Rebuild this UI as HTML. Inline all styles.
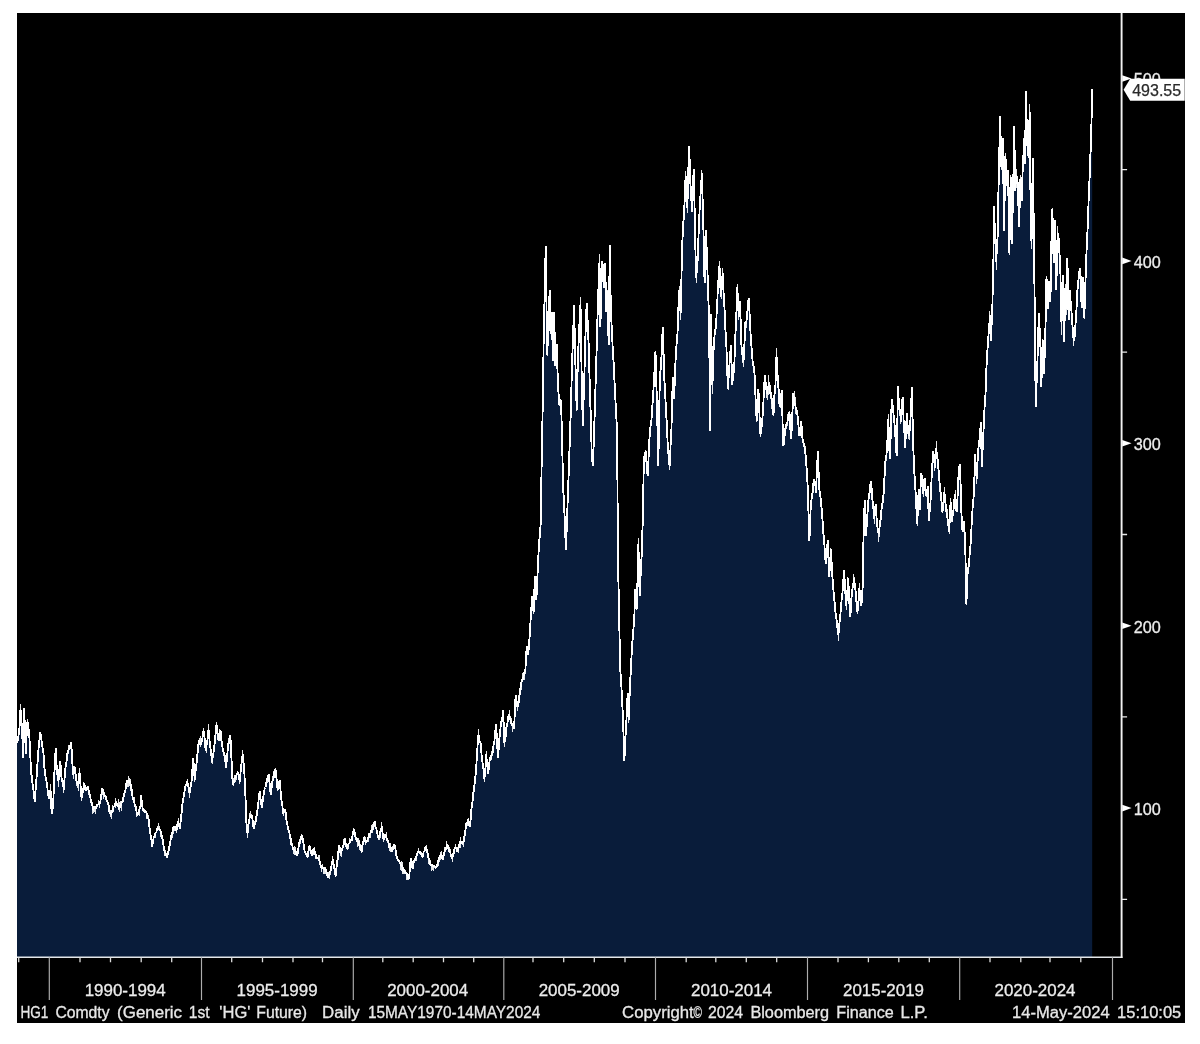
<!DOCTYPE html>
<html><head><meta charset="utf-8"><title>HG1 Comdty</title>
<style>
html,body{margin:0;padding:0;background:#fff;}
body{width:1200px;height:1044px;overflow:hidden;position:relative;font-family:"Liberation Sans",sans-serif;}
#panel{position:absolute;left:17px;top:13px;width:1167.7px;height:1009.6px;background:#000;filter:blur(0.4px);}
svg{position:absolute;left:0;top:0;filter:blur(0.4px);}
text{font-family:"Liberation Sans",sans-serif;}
.yl{font-size:16.2px;fill:#ececec;stroke:#ececec;stroke-width:0.3px;}
.vl{font-size:16px;fill:#2a2a2a;stroke:#2a2a2a;stroke-width:0.25px;}
.xl{font-size:16.95px;fill:#ececec;stroke:#ececec;stroke-width:0.3px;}
.ft{font-size:16px;fill:#e8e8e8;stroke:#e8e8e8;stroke-width:0.3px;}
</style></head><body>
<div id="panel"></div>
<svg width="1200" height="1044" viewBox="0 0 1200 1044">
<defs><filter id="bl" x="-2%" y="-2%" width="104%" height="104%"><feGaussianBlur stdDeviation="0.4"/></filter></defs>
<path d="M17 957.2 L17 743.0 L17.4 743.0 L17.7 739.1 L18.4 736.6 L19.1 728.9 L19.5 728.5 L19.8 721.7 L20.5 709.0 L21.2 719.0 L21.9 726.3 L22.2 732.6 L22.6 742.7 L23.1 757.5 L23.3 742.1 L23.9 707.8 L24.7 721.9 L25.2 732.4 L25.4 741.7 L25.8 754.3 L26.1 747.3 L26.8 731.5 L27.3 722.7 L27.5 721.1 L28.2 728.6 L29.0 730.3 L29.6 740.7 L30.0 749.1 L30.3 755.3 L31.1 773.1 L31.7 775.9 L32.4 782.5 L33.2 787.7 L33.8 792.6 L34.5 799.4 L34.9 801.8 L35.2 795.3 L35.9 785.9 L36.3 781.4 L36.6 776.7 L37.3 765.7 L38.0 756.4 L38.5 749.5 L38.7 745.7 L39.4 740.7 L40.1 731.9 L40.8 734.8 L41.6 741.2 L42.2 745.1 L42.9 751.1 L43.3 751.9 L43.6 754.8 L44.3 767.0 L44.8 770.2 L45.0 772.0 L45.7 778.4 L46.4 780.6 L46.9 785.4 L47.1 784.8 L47.8 791.8 L48.5 796.4 L49.0 798.1 L49.2 798.3 L49.9 791.9 L50.5 789.8 L51.3 806.4 L51.7 813.9 L52.0 811.8 L52.7 808.9 L53.2 804.8 L54.3 774.8 L54.8 765.6 L55.7 748.0 L56.2 758.7 L56.8 768.7 L57.6 777.0 L58.5 781.5 L59.0 773.7 L59.7 765.9 L60.2 761.3 L60.4 762.1 L61.1 772.6 L61.6 778.7 L62.5 781.8 L63.2 785.1 L63.8 789.9 L64.6 777.5 L65.3 769.6 L65.9 764.2 L66.7 760.8 L67.4 753.0 L68.0 751.6 L68.8 749.3 L69.5 748.8 L70.2 746.4 L71.1 742.6 L71.6 749.6 L72.2 760.0 L73.2 774.7 L73.7 774.1 L74.4 771.0 L74.7 767.1 L75.1 769.4 L75.8 775.3 L76.4 780.9 L77.2 782.8 L77.9 784.6 L78.5 785.1 L79.3 773.3 L79.6 772.7 L80.0 777.8 L80.7 787.0 L81.4 797.1 L81.7 798.2 L82.1 795.4 L82.8 791.8 L83.5 788.0 L84.2 782.8 L84.9 787.8 L85.6 789.9 L85.9 790.0 L86.3 790.5 L87.0 788.0 L87.7 787.3 L88.0 787.1 L88.4 790.3 L89.1 791.3 L89.8 794.8 L90.1 797.7 L90.5 798.3 L91.2 801.9 L91.9 803.5 L92.6 806.1 L93.3 810.3 L94.0 808.0 L94.7 808.2 L95.4 805.8 L96.1 808.4 L96.4 806.6 L96.8 804.7 L97.5 804.7 L98.2 804.6 L98.9 804.2 L99.6 804.0 L100.3 801.5 L101.0 798.1 L101.7 791.7 L102.1 789.6 L102.4 788.6 L103.1 790.6 L103.8 793.5 L104.5 795.1 L104.9 797.3 L105.2 796.1 L105.9 796.6 L106.6 801.6 L107.0 800.2 L107.3 800.1 L108.0 804.6 L108.7 805.2 L109.1 808.6 L109.4 811.7 L110.1 813.3 L110.8 814.7 L111.2 814.7 L111.5 813.2 L112.2 810.0 L112.9 810.2 L113.7 806.5 L114.3 806.7 L115.0 803.7 L115.7 802.2 L116.5 802.6 L117.1 805.4 L117.8 806.0 L118.5 807.0 L119.2 808.2 L119.6 807.8 L119.9 805.9 L120.6 805.9 L121.3 804.1 L122.0 801.5 L122.8 801.8 L123.4 798.0 L124.1 794.5 L124.9 791.9 L125.5 790.2 L126.2 784.1 L127.0 780.6 L127.6 782.5 L128.3 782.7 L129.0 780.3 L129.7 780.9 L130.4 783.5 L131.1 786.8 L131.8 790.4 L132.3 794.0 L132.5 796.6 L133.2 799.2 L133.9 800.4 L134.6 803.9 L135.4 806.8 L136.0 807.2 L136.7 812.4 L137.5 815.3 L138.1 814.5 L138.8 812.5 L139.5 809.5 L140.2 806.4 L140.7 806.8 L141.1 794.7 L141.6 800.4 L142.3 806.7 L142.8 808.5 L143.0 808.5 L143.7 811.7 L144.4 811.7 L145.1 810.3 L146.0 812.4 L146.5 812.7 L147.2 817.4 L147.9 818.6 L148.7 818.8 L149.3 825.8 L150.2 832.3 L150.7 836.2 L151.4 839.9 L152.3 846.6 L152.8 842.4 L153.5 838.4 L154.4 836.5 L154.9 835.2 L155.6 832.8 L156.3 832.6 L157.0 828.7 L157.6 827.9 L158.4 830.0 L159.1 828.4 L160.0 830.4 L160.5 831.4 L161.2 833.3 L162.1 837.1 L162.6 839.2 L163.3 844.0 L164.2 849.3 L164.7 852.7 L165.4 852.6 L166.1 855.1 L166.7 857.1 L167.5 855.8 L168.2 851.5 L168.9 850.1 L169.6 845.5 L170.3 841.8 L171.0 838.0 L171.6 834.4 L172.4 832.1 L173.1 828.9 L173.8 826.0 L174.3 826.8 L175.2 826.9 L175.9 829.6 L176.4 830.9 L177.3 825.2 L177.9 821.0 L178.7 824.1 L179.4 826.7 L180.0 828.9 L180.8 818.9 L181.5 813.9 L182.2 806.4 L182.9 800.4 L183.2 799.4 L183.6 796.5 L184.3 792.5 L185.0 789.2 L185.3 786.9 L185.7 785.1 L186.4 784.1 L187.1 781.9 L187.4 781.2 L187.8 784.3 L188.5 787.1 L189.2 791.3 L189.5 792.7 L189.9 792.2 L190.6 786.9 L191.3 783.5 L191.6 780.6 L192.0 773.7 L192.7 765.8 L193.3 758.5 L194.1 771.8 L194.8 779.7 L195.5 771.7 L196.2 766.8 L196.9 760.6 L197.6 752.5 L198.3 744.7 L199.0 740.3 L199.7 742.9 L200.4 744.8 L201.1 743.9 L201.8 741.4 L202.5 737.3 L203.2 731.0 L203.6 731.0 L203.9 735.4 L204.6 737.8 L205.3 747.3 L206.0 750.5 L206.7 744.1 L207.4 740.7 L208.1 734.1 L208.5 729.1 L208.8 732.6 L209.5 740.0 L210.2 746.2 L210.9 751.3 L211.6 757.7 L212.1 762.4 L212.3 758.2 L213.0 755.9 L213.7 750.6 L214.4 745.8 L215.1 737.8 L215.8 731.8 L216.5 724.3 L217.2 727.6 L217.9 737.4 L218.6 740.4 L219.3 739.1 L220.0 731.8 L220.5 731.3 L220.7 731.2 L221.4 740.4 L222.1 743.6 L222.6 748.0 L222.8 748.7 L223.5 752.7 L224.3 753.1 L224.9 757.1 L225.6 762.8 L226.0 767.9 L226.3 764.3 L227.0 757.9 L227.9 748.0 L228.4 743.6 L229.1 743.1 L229.8 738.4 L230.4 735.3 L231.2 753.2 L231.9 767.9 L232.7 784.6 L233.3 781.1 L234.0 782.9 L234.7 777.8 L235.5 778.4 L236.1 776.1 L236.8 773.9 L237.5 773.1 L238.0 772.2 L238.2 772.1 L238.9 775.9 L239.7 782.2 L240.3 775.0 L241.0 767.9 L241.7 761.6 L242.6 754.3 L243.1 758.4 L243.8 765.9 L244.3 771.4 L245.4 795.1 L245.9 808.5 L246.4 822.3 L247.5 833.5 L248.0 829.1 L248.7 822.5 L249.6 817.8 L250.1 815.2 L250.8 817.1 L251.7 814.9 L252.2 817.1 L252.9 822.8 L253.8 829.0 L254.3 824.9 L255.0 825.0 L255.9 820.1 L256.4 816.5 L257.1 813.0 L258.0 805.3 L258.5 801.0 L259.2 795.6 L259.7 791.2 L259.9 791.7 L260.6 799.4 L261.3 804.5 L261.8 807.6 L262.7 801.0 L263.4 796.1 L263.7 794.4 L264.1 791.3 L264.8 787.8 L265.5 787.5 L266.2 782.2 L266.5 781.8 L266.9 778.5 L267.6 779.0 L268.3 776.4 L268.6 774.0 L269.0 777.5 L269.7 784.3 L270.4 791.6 L270.7 794.8 L271.1 790.1 L271.8 786.5 L272.5 780.8 L272.8 780.6 L273.2 780.3 L273.9 775.4 L274.6 771.1 L275.5 769.0 L276.0 773.0 L276.7 780.6 L277.6 790.1 L278.1 787.6 L278.8 784.5 L279.7 780.1 L280.2 785.2 L280.9 795.5 L281.2 798.5 L281.6 801.0 L282.3 805.2 L283.0 811.4 L283.3 813.4 L283.7 811.0 L284.4 810.8 L285.1 809.1 L285.4 809.7 L285.8 813.8 L286.5 820.4 L287.2 823.9 L287.9 827.1 L288.6 830.6 L289.0 830.6 L289.3 831.7 L290.0 838.1 L290.7 838.6 L291.4 844.6 L291.7 845.6 L292.1 844.3 L292.8 848.4 L293.5 849.7 L294.2 849.8 L294.5 849.9 L294.9 852.0 L295.6 851.1 L296.3 854.4 L297.0 856.0 L297.7 853.0 L298.4 848.7 L299.1 843.7 L299.8 841.3 L300.5 840.2 L301.2 837.0 L301.7 835.1 L301.9 835.3 L302.6 838.3 L303.3 842.5 L304.0 847.2 L304.4 849.3 L304.7 851.7 L305.4 852.3 L306.1 854.2 L306.8 855.8 L307.6 857.2 L308.2 853.3 L308.9 847.6 L309.7 845.7 L310.0 847.8 L310.3 848.9 L311.0 851.8 L311.7 855.1 L312.1 855.6 L312.4 855.5 L313.1 850.6 L313.8 848.2 L314.5 850.2 L315.2 854.3 L315.9 854.6 L316.3 857.3 L316.6 859.1 L317.3 858.0 L318.0 858.3 L318.7 859.4 L319.5 860.4 L320.1 863.8 L320.8 866.0 L321.6 868.8 L322.2 867.1 L322.9 867.3 L323.6 867.7 L324.3 869.5 L324.8 868.5 L325.0 869.6 L325.7 869.4 L326.4 871.5 L327.1 874.1 L327.9 877.2 L328.5 876.4 L329.2 874.7 L329.9 871.7 L330.7 870.8 L331.3 866.9 L332.0 863.1 L332.8 858.8 L333.4 863.9 L334.2 866.2 L334.8 872.0 L335.7 876.4 L336.2 869.5 L336.9 864.5 L337.4 860.5 L337.6 860.0 L338.3 851.9 L339.1 845.2 L339.7 848.0 L340.6 854.3 L341.1 851.1 L341.8 850.4 L342.7 847.2 L343.2 845.4 L343.9 844.3 L344.8 838.8 L345.3 842.8 L346.0 844.8 L346.9 849.0 L347.4 848.0 L348.1 844.5 L349.0 843.7 L349.5 842.8 L350.2 840.5 L350.9 839.8 L351.5 841.2 L352.3 837.0 L353.0 832.9 L353.8 829.3 L354.4 831.6 L355.1 834.7 L356.0 839.5 L356.5 837.7 L357.2 841.4 L358.1 841.6 L358.6 840.9 L359.3 845.4 L360.2 845.7 L360.7 849.4 L361.6 851.6 L362.1 847.9 L362.8 843.1 L363.5 840.5 L363.8 837.1 L364.2 837.9 L364.9 840.3 L365.6 841.8 L365.9 842.9 L366.3 840.7 L367.0 842.0 L367.7 838.2 L368.6 837.4 L369.1 834.9 L369.8 833.5 L370.5 833.0 L371.1 831.4 L371.9 829.2 L372.6 829.8 L373.2 826.9 L374.0 824.9 L374.7 821.3 L375.4 826.0 L376.1 829.2 L376.4 828.6 L376.8 832.2 L377.5 834.1 L377.9 838.3 L378.2 837.3 L378.9 837.5 L379.6 836.0 L380.0 834.7 L380.3 831.4 L381.0 831.4 L381.7 826.1 L382.4 832.1 L383.1 836.8 L383.4 838.9 L383.8 839.1 L384.5 838.7 L385.2 834.4 L385.5 835.1 L385.9 835.5 L386.6 838.6 L387.3 840.1 L387.6 840.9 L388.0 841.1 L388.7 843.0 L389.4 847.4 L390.1 847.6 L390.8 847.1 L391.5 850.3 L392.2 851.2 L392.6 849.6 L392.9 847.7 L393.6 846.5 L394.3 844.7 L394.7 845.3 L395.0 845.7 L395.7 850.6 L396.4 855.8 L397.1 857.7 L397.8 860.2 L398.5 861.1 L399.2 861.3 L399.6 862.2 L399.9 863.1 L400.6 863.9 L401.3 865.2 L402.0 865.6 L402.7 868.4 L403.4 871.3 L404.1 869.1 L404.8 871.4 L405.5 872.8 L405.9 873.2 L406.2 872.6 L406.9 874.4 L407.6 875.9 L408.3 878.1 L408.7 879.1 L409.0 877.6 L409.7 871.2 L410.1 866.9 L410.4 862.3 L411.2 857.7 L411.8 862.9 L412.5 868.0 L412.9 868.6 L413.2 866.9 L413.9 860.7 L414.3 860.1 L414.6 861.2 L415.3 859.5 L416.0 858.2 L416.5 856.4 L416.7 854.6 L417.4 852.9 L418.1 851.9 L418.8 852.1 L419.6 850.9 L420.2 853.6 L420.9 854.2 L421.6 855.3 L422.3 857.1 L422.8 857.0 L423.0 856.3 L423.7 851.6 L424.4 851.8 L425.1 847.0 L425.5 846.9 L425.8 848.2 L426.5 849.3 L427.2 851.1 L427.6 853.6 L427.9 855.7 L428.6 858.8 L429.3 859.5 L430.2 864.0 L430.7 864.9 L431.4 865.6 L432.1 865.3 L432.8 865.2 L433.3 866.6 L434.2 865.1 L434.9 866.4 L435.6 867.3 L436.1 868.0 L436.3 867.3 L437.0 866.2 L437.7 862.6 L438.6 860.0 L439.1 857.6 L439.8 858.2 L440.7 854.1 L441.2 854.8 L441.9 855.8 L442.8 860.2 L443.3 858.2 L444.0 853.8 L444.9 849.4 L445.4 849.3 L446.1 848.9 L447.0 845.2 L447.5 844.9 L448.2 847.9 L448.9 849.9 L449.5 851.9 L450.3 852.4 L451.0 856.3 L451.7 857.7 L452.3 858.1 L453.1 853.7 L453.8 854.0 L454.5 848.7 L455.0 847.9 L455.9 847.6 L456.6 848.5 L457.3 851.4 L457.6 850.5 L458.0 851.0 L458.7 847.2 L459.4 843.9 L460.1 841.9 L460.7 841.1 L461.5 842.5 L462.2 844.1 L462.9 841.6 L463.5 843.2 L464.3 836.7 L465.0 835.4 L465.7 827.6 L466.1 826.2 L466.4 823.7 L467.1 822.4 L467.8 821.9 L468.3 818.7 L469.2 824.6 L469.7 827.2 L470.6 819.4 L471.3 809.9 L471.7 806.9 L472.0 806.4 L472.7 800.3 L473.4 792.0 L473.9 790.7 L474.1 787.9 L474.8 781.8 L475.5 775.5 L476.1 770.7 L476.9 754.5 L477.2 751.4 L477.6 744.9 L478.3 735.6 L479.0 735.8 L479.7 742.5 L480.6 743.0 L481.1 748.4 L481.8 757.6 L482.2 760.4 L482.5 762.4 L483.2 766.7 L483.9 774.8 L484.4 779.3 L485.3 770.0 L486.0 757.7 L486.4 754.3 L486.7 761.0 L487.4 766.9 L487.8 773.8 L488.1 773.1 L488.8 768.5 L489.5 760.8 L490.0 759.5 L490.2 757.3 L490.9 759.2 L491.6 754.0 L492.3 754.2 L492.8 752.1 L493.0 749.1 L493.7 743.8 L494.4 742.1 L494.7 737.9 L495.1 732.6 L495.8 727.8 L496.1 723.7 L496.5 731.1 L497.2 743.9 L497.8 757.5 L498.6 749.3 L499.4 737.9 L500.0 735.6 L500.7 725.8 L501.4 721.6 L501.7 721.1 L502.1 719.7 L502.8 714.1 L503.1 709.9 L503.5 720.1 L504.4 743.2 L504.9 739.7 L505.6 736.5 L506.3 727.7 L506.7 727.0 L507.0 725.5 L507.7 721.5 L508.6 714.5 L509.1 716.5 L509.8 717.6 L510.5 720.0 L511.4 723.7 L511.9 726.1 L512.6 723.7 L513.3 725.3 L514.2 728.4 L514.7 713.9 L515.6 695.5 L516.1 697.0 L516.8 703.6 L517.5 707.0 L518.2 705.1 L518.9 700.3 L519.7 694.0 L520.3 689.1 L521.0 684.6 L521.7 681.2 L522.5 679.4 L523.1 678.7 L523.8 675.2 L524.5 671.9 L525.3 671.0 L525.9 660.1 L526.7 646.4 L527.3 651.5 L528.1 654.9 L528.7 648.6 L529.4 640.0 L530.1 630.2 L530.8 615.3 L531.5 606.2 L532.2 595.9 L532.9 606.0 L533.6 612.3 L534.3 592.6 L535.0 576.3 L535.7 586.2 L536.4 599.5 L537.1 583.1 L537.8 568.1 L538.5 553.6 L539.1 543.8 L539.9 533.5 L540.8 523.0 L541.3 487.8 L541.7 458.5 L542.0 447.5 L542.7 405.8 L543.0 393.0 L543.4 361.0 L543.7 335.1 L544.1 319.5 L545.0 277.9 L545.7 245.8 L546.3 294.4 L546.9 330.0 L547.3 354.9 L547.6 346.0 L548.3 331.4 L548.6 321.0 L549.0 310.5 L549.6 290.2 L550.5 333.8 L551.1 326.5 L551.8 312.5 L552.5 342.3 L552.8 360.6 L553.2 346.9 L554.1 312.5 L554.6 332.6 L555.4 366.2 L556.0 354.2 L556.7 343.6 L557.4 367.3 L558.0 386.8 L558.8 396.0 L559.3 405.1 L560.2 401.2 L561.0 399.9 L561.6 421.0 L562.0 435.1 L562.3 449.0 L563.0 483.1 L563.3 491.0 L563.7 497.2 L564.6 516.3 L565.1 530.3 L565.9 549.6 L566.5 534.0 L567.2 516.3 L567.9 492.0 L568.5 478.2 L569.3 453.8 L569.8 441.6 L570.0 432.5 L570.7 414.7 L571.1 399.2 L571.4 388.1 L572.1 362.0 L572.4 353.7 L572.8 343.8 L573.5 324.0 L574.0 304.7 L574.9 341.0 L575.3 360.9 L575.6 369.4 L576.3 394.2 L576.6 410.1 L577.0 393.8 L577.9 361.1 L578.4 347.3 L579.2 328.6 L579.8 317.2 L580.5 304.3 L581.2 344.4 L581.5 367.1 L581.9 386.4 L582.8 426.4 L583.3 407.4 L584.1 386.8 L584.7 363.1 L585.4 337.6 L586.1 316.4 L586.7 302.9 L587.5 318.3 L588.0 328.7 L588.9 351.2 L589.3 366.9 L589.6 379.2 L590.3 404.9 L590.7 412.0 L591.0 423.0 L591.7 453.5 L592.0 459.1 L592.4 462.1 L592.9 465.6 L593.8 441.7 L594.2 425.4 L594.5 420.1 L595.2 396.9 L595.5 387.2 L595.9 371.3 L596.8 344.7 L597.3 323.8 L598.2 295.0 L598.7 283.1 L599.5 261.7 L600.1 304.2 L600.4 327.2 L600.8 309.9 L601.4 285.5 L602.4 260.7 L602.9 269.0 L603.7 288.1 L604.3 278.0 L605.0 263.5 L605.7 285.9 L606.3 311.7 L607.1 301.4 L607.6 290.9 L608.6 344.8 L609.2 291.9 L609.9 244.9 L610.6 295.5 L610.9 311.8 L611.3 319.1 L612.2 337.4 L612.7 348.0 L613.5 360.3 L614.1 374.7 L614.8 386.4 L615.5 401.0 L616.1 411.7 L617.1 432.4 L617.6 505.1 L617.9 553.6 L618.3 576.3 L618.9 603.3 L619.7 644.4 L620.2 667.6 L620.4 671.7 L621.1 681.5 L621.8 693.3 L622.1 700.5 L622.5 708.0 L623.2 727.2 L623.5 733.2 L623.9 744.4 L624.4 761.0 L625.3 740.0 L626.1 726.9 L626.7 714.7 L627.4 699.3 L627.7 693.5 L628.1 705.8 L628.7 720.0 L629.5 698.7 L630.0 683.8 L630.2 681.4 L630.9 669.4 L631.6 655.1 L631.9 648.9 L632.3 641.5 L633.0 637.0 L633.7 625.2 L634.2 619.8 L634.4 614.8 L635.2 589.3 L635.8 599.4 L636.5 608.6 L636.8 608.7 L637.2 591.7 L637.9 566.2 L638.4 543.7 L639.3 582.3 L639.7 596.0 L640.0 592.0 L640.7 572.7 L641.4 559.8 L641.7 554.7 L642.1 539.1 L643.0 514.5 L643.5 479.9 L643.8 462.4 L644.2 457.2 L644.9 454.7 L645.6 451.1 L645.9 452.9 L646.3 459.3 L647.0 470.6 L647.7 476.3 L648.4 462.5 L649.1 442.2 L649.5 438.0 L649.8 435.2 L650.5 426.1 L651.2 423.0 L651.9 413.3 L652.6 402.6 L653.3 393.8 L653.7 384.1 L654.0 382.6 L654.7 366.4 L655.5 351.0 L656.1 376.7 L656.8 397.0 L657.2 414.1 L657.5 428.2 L658.3 466.0 L658.9 432.2 L659.7 384.8 L660.3 372.5 L661.0 365.9 L661.5 355.6 L661.7 354.1 L662.4 334.5 L662.9 326.8 L663.1 338.7 L663.8 360.7 L664.3 378.1 L665.2 394.5 L666.1 412.2 L666.6 420.4 L667.3 435.4 L667.9 448.8 L668.7 456.8 L669.6 466.3 L670.1 459.2 L670.8 439.6 L671.4 430.4 L672.2 401.0 L672.8 376.8 L673.6 386.1 L674.2 398.7 L675.0 373.9 L675.6 359.8 L676.4 346.1 L677.1 338.6 L677.8 328.4 L678.5 304.8 L679.2 289.6 L679.9 302.1 L680.6 313.3 L681.3 285.3 L682.0 249.8 L682.7 234.3 L683.4 221.2 L683.8 218.8 L684.1 213.8 L684.8 196.2 L685.6 175.8 L686.2 185.8 L686.9 196.0 L687.3 208.2 L687.6 198.0 L688.3 171.4 L689.1 146.3 L689.7 161.1 L690.4 183.4 L690.9 190.7 L691.1 193.0 L691.9 212.4 L692.5 192.7 L693.2 180.6 L693.7 168.7 L693.9 177.1 L694.8 217.5 L695.3 245.1 L696.2 277.6 L696.7 271.4 L697.4 265.1 L697.9 253.1 L698.8 228.2 L699.7 208.1 L700.2 199.4 L700.9 189.1 L701.8 173.2 L702.3 187.6 L703.0 215.2 L703.3 225.1 L703.7 240.3 L704.4 275.9 L704.7 282.8 L705.1 267.1 L705.8 234.4 L706.1 229.9 L706.5 244.5 L707.2 263.0 L707.5 272.1 L707.9 284.9 L708.6 305.7 L708.9 316.8 L709.3 348.0 L710.0 402.6 L710.3 430.6 L710.7 368.3 L711.0 314.5 L711.4 336.1 L712.1 370.0 L712.5 384.4 L712.8 374.3 L713.5 352.3 L713.9 343.0 L714.2 339.8 L714.9 332.0 L715.6 328.5 L716.3 321.3 L717.0 303.7 L717.4 300.7 L717.7 290.5 L718.4 280.9 L719.1 269.0 L719.5 265.1 L719.8 275.0 L720.5 288.9 L721.0 296.0 L721.2 296.2 L721.9 282.2 L722.7 272.8 L723.3 288.4 L724.0 299.2 L724.5 307.4 L724.7 313.0 L725.4 329.7 L726.3 342.3 L726.8 359.8 L727.5 376.8 L728.0 389.1 L728.9 372.3 L729.5 364.1 L730.3 353.2 L730.9 345.5 L731.7 367.3 L732.3 385.1 L733.1 373.0 L733.8 372.7 L734.4 362.9 L735.2 340.0 L735.9 323.8 L736.2 322.1 L736.6 305.5 L737.2 286.7 L738.0 300.2 L738.7 316.6 L739.4 309.9 L740.0 301.5 L740.8 326.1 L741.5 346.0 L741.8 349.9 L742.2 354.3 L742.9 356.6 L743.5 362.1 L744.3 346.7 L745.0 332.0 L745.3 321.6 L745.7 323.9 L746.4 321.5 L747.1 316.3 L747.8 305.3 L748.5 299.8 L748.8 298.6 L749.2 302.7 L749.9 322.9 L750.6 333.7 L751.3 343.7 L752.0 354.5 L752.7 361.7 L753.4 365.4 L754.1 369.7 L754.9 378.3 L755.5 397.0 L756.2 409.5 L756.6 421.2 L756.9 415.8 L757.6 400.1 L758.4 389.3 L759.0 401.5 L759.7 420.0 L760.5 435.5 L761.1 428.4 L761.8 426.3 L762.7 414.5 L763.2 406.7 L763.9 392.1 L764.8 374.6 L765.3 379.5 L766.0 385.5 L766.9 393.8 L767.4 389.4 L768.1 388.8 L769.0 382.7 L769.5 383.8 L770.2 393.5 L770.9 392.1 L771.2 397.4 L771.6 398.2 L772.3 402.8 L773.0 410.2 L773.3 415.0 L773.7 412.2 L774.4 395.3 L775.1 389.7 L775.4 386.2 L775.8 376.4 L776.5 355.5 L777.2 369.1 L777.9 379.8 L778.2 386.9 L778.6 389.1 L779.3 402.8 L780.0 407.0 L780.7 397.9 L781.4 394.7 L781.8 389.7 L782.1 401.0 L782.8 433.1 L783.2 445.6 L783.5 445.7 L784.2 439.2 L784.9 434.0 L785.3 428.9 L785.6 426.5 L786.3 424.5 L787.0 422.1 L787.4 422.3 L787.7 417.5 L788.4 421.2 L789.1 412.3 L789.6 414.0 L789.8 416.5 L790.5 431.1 L791.3 439.3 L791.9 422.8 L792.6 408.5 L793.1 392.8 L793.3 394.1 L794.0 398.2 L794.7 403.4 L795.2 404.4 L796.1 409.6 L796.8 410.8 L797.3 414.2 L798.2 420.7 L798.9 432.9 L799.5 436.1 L800.3 430.7 L801.2 421.0 L801.7 427.0 L802.4 437.9 L803.0 443.0 L803.8 442.8 L804.5 447.6 L805.1 450.6 L805.9 457.9 L806.5 467.1 L807.3 479.8 L808.0 492.7 L808.7 521.4 L809.4 541.4 L810.1 521.0 L810.8 506.1 L811.5 499.5 L812.2 495.3 L812.6 491.8 L812.9 488.3 L813.6 481.7 L814.3 479.1 L815.0 485.4 L815.7 486.6 L816.1 493.2 L816.4 481.9 L817.1 467.0 L817.9 450.8 L818.5 470.0 L819.3 489.3 L819.9 493.7 L820.6 497.9 L821.4 506.8 L822.0 512.0 L822.7 522.1 L823.5 534.7 L824.1 539.7 L824.8 551.4 L825.7 563.6 L826.2 558.3 L826.9 549.5 L827.8 540.4 L828.3 554.1 L829.2 576.8 L829.7 569.6 L830.4 557.1 L831.0 549.4 L831.8 567.0 L832.7 580.8 L833.2 587.0 L833.9 596.2 L834.6 602.4 L834.9 605.3 L835.3 610.7 L836.0 617.2 L836.6 620.2 L837.4 627.3 L838.1 633.8 L838.4 634.2 L838.8 630.6 L839.5 622.5 L840.2 616.0 L840.9 609.5 L841.6 599.4 L841.9 598.5 L842.3 595.2 L843.0 585.5 L843.7 575.6 L844.1 569.9 L844.4 575.7 L845.1 587.6 L845.8 600.3 L846.2 605.5 L846.5 602.3 L847.2 594.5 L847.9 580.6 L848.3 577.6 L848.6 586.4 L849.3 600.7 L850.0 617.4 L850.7 612.1 L851.4 598.6 L852.1 593.4 L852.8 585.4 L853.5 583.2 L854.0 577.9 L854.9 586.4 L855.6 590.8 L855.9 596.1 L856.3 600.5 L857.0 608.6 L857.5 612.1 L858.4 601.1 L859.1 593.3 L859.4 588.0 L859.8 591.8 L860.5 602.1 L861.3 606.3 L861.9 598.5 L862.6 587.8 L863.4 542.8 L864.0 520.0 L864.7 500.3 L865.4 517.5 L866.1 536.3 L866.8 523.2 L867.7 510.0 L868.2 501.5 L868.9 497.3 L869.3 493.9 L869.6 493.1 L870.3 485.4 L870.9 481.6 L871.7 488.8 L872.4 499.9 L872.8 502.9 L873.1 506.3 L873.8 512.6 L874.1 518.7 L874.5 514.2 L875.2 507.1 L875.7 504.2 L876.6 518.5 L877.4 526.8 L878.0 531.2 L878.7 534.3 L879.4 528.6 L880.3 520.4 L880.8 519.5 L881.5 509.4 L882.2 505.0 L882.9 500.8 L883.8 492.0 L884.3 481.3 L885.0 467.2 L885.4 462.0 L885.7 456.4 L886.4 455.8 L887.0 448.2 L887.8 433.1 L888.3 418.6 L889.2 444.5 L889.7 458.8 L889.9 453.3 L890.8 434.5 L891.3 412.2 L891.8 399.3 L892.7 405.4 L893.4 413.1 L894.1 419.0 L894.8 427.3 L895.1 429.6 L895.5 438.7 L896.2 450.5 L896.7 456.3 L896.9 445.9 L897.6 409.0 L898.0 385.9 L898.3 393.7 L899.0 403.6 L899.6 408.8 L900.4 413.7 L901.0 422.3 L901.8 409.6 L902.6 396.6 L903.2 407.1 L903.6 419.9 L903.9 425.6 L904.6 435.4 L905.2 447.8 L906.0 428.8 L906.9 413.1 L907.4 423.4 L908.1 429.5 L908.5 434.4 L908.8 436.3 L909.5 431.9 L910.1 426.4 L910.9 411.7 L911.6 394.5 L911.9 387.4 L912.3 406.2 L913.0 438.5 L913.7 458.3 L914.4 473.2 L915.1 483.3 L916.0 499.8 L916.5 509.7 L917.3 524.0 L917.9 507.1 L918.7 489.4 L919.3 502.6 L919.7 509.8 L920.0 501.3 L920.7 484.2 L921.3 472.6 L922.1 480.1 L922.9 494.0 L923.5 485.7 L924.2 481.2 L924.6 478.0 L924.9 482.7 L925.6 493.1 L926.2 495.9 L927.0 493.4 L927.8 486.0 L928.4 507.9 L928.8 521.2 L929.1 519.9 L929.8 508.5 L930.5 502.0 L931.2 488.3 L931.8 471.9 L932.6 460.2 L933.1 451.4 L934.0 456.7 L934.7 467.5 L935.4 460.6 L936.1 454.3 L936.4 448.2 L936.8 456.0 L937.5 458.4 L938.0 461.9 L938.2 468.3 L938.9 471.5 L939.6 483.7 L940.3 490.6 L941.2 496.5 L941.7 505.9 L942.5 512.6 L943.1 505.7 L943.8 498.1 L944.4 491.9 L945.2 499.1 L946.0 510.1 L946.6 512.8 L947.3 517.2 L947.6 518.8 L948.0 520.3 L948.7 529.7 L949.2 531.5 L950.1 511.7 L950.6 501.7 L950.8 505.9 L951.5 518.8 L951.9 521.2 L952.2 520.7 L952.9 512.9 L953.5 509.9 L954.3 500.6 L955.1 494.2 L955.7 502.1 L956.4 511.3 L956.7 512.1 L957.1 505.8 L957.8 491.8 L958.3 478.1 L959.2 467.4 L959.9 464.2 L960.6 484.2 L961.3 509.6 L962.0 524.8 L962.6 531.8 L963.4 527.4 L964.2 521.4 L964.8 538.3 L965.3 547.9 L966.4 604.2 L966.9 589.9 L967.5 574.8 L968.3 569.3 L969.1 564.1 L969.7 553.1 L970.4 546.7 L970.7 542.3 L971.1 536.6 L971.8 520.5 L972.3 515.0 L972.5 508.7 L973.2 503.3 L973.9 492.1 L974.6 472.0 L975.2 453.6 L976.0 470.5 L976.6 478.5 L977.4 464.2 L978.2 450.7 L978.8 444.4 L979.5 439.4 L979.8 437.4 L980.2 430.7 L980.9 421.9 L981.6 457.2 L981.9 466.5 L982.3 458.4 L983.0 437.7 L983.3 434.4 L983.7 427.3 L984.6 406.2 L985.1 400.9 L985.9 386.4 L986.5 366.2 L987.2 353.7 L987.9 343.4 L988.5 335.3 L989.3 325.7 L989.8 314.7 L990.0 318.9 L990.7 330.4 L991.1 341.2 L991.4 329.9 L992.1 311.9 L992.4 307.2 L992.8 283.5 L993.4 263.0 L994.0 206.3 L994.9 231.9 L995.3 235.6 L995.6 247.9 L996.3 261.8 L997.0 243.7 L997.6 237.0 L998.4 193.1 L998.9 171.9 L999.8 130.4 L1000.2 116.3 L1000.5 132.3 L1001.2 158.8 L1001.5 168.9 L1001.9 161.2 L1002.8 137.6 L1003.3 175.1 L1004.1 230.5 L1004.7 195.3 L1005.4 156.1 L1006.1 168.2 L1006.7 185.5 L1007.5 178.6 L1008.0 170.1 L1008.9 222.1 L1009.3 253.2 L1009.6 239.6 L1010.3 192.4 L1010.7 177.4 L1011.0 198.8 L1011.7 228.5 L1012.0 243.9 L1012.4 221.7 L1013.3 183.3 L1013.8 149.0 L1014.2 125.8 L1014.5 144.3 L1015.2 191.3 L1015.9 178.5 L1016.5 175.3 L1017.3 179.3 L1017.8 184.7 L1018.7 214.9 L1019.1 226.5 L1019.4 214.5 L1020.1 192.1 L1020.4 178.9 L1020.8 187.5 L1021.7 200.8 L1022.2 184.0 L1023.0 160.4 L1023.6 152.6 L1024.0 139.2 L1024.3 150.1 L1025.0 164.4 L1025.7 110.0 L1026.0 91.0 L1026.4 112.3 L1027.3 145.5 L1027.8 148.8 L1028.6 158.1 L1029.2 132.3 L1029.6 112.3 L1029.9 144.7 L1030.5 194.4 L1031.5 243.9 L1032.0 213.0 L1032.8 157.7 L1033.4 197.7 L1033.8 229.4 L1034.1 257.4 L1034.8 315.0 L1035.5 386.9 L1035.8 406.8 L1036.2 390.8 L1037.1 374.1 L1037.6 355.4 L1038.0 338.4 L1038.3 331.1 L1039.0 312.7 L1039.7 331.1 L1040.3 341.5 L1041.3 386.9 L1041.8 371.5 L1042.6 340.5 L1043.2 353.0 L1043.9 373.6 L1044.6 358.0 L1045.2 340.2 L1046.0 302.5 L1046.5 276.6 L1047.4 296.0 L1047.8 308.5 L1048.1 303.7 L1048.8 287.9 L1049.1 281.5 L1049.5 286.0 L1050.4 302.3 L1050.9 274.7 L1051.4 242.9 L1052.4 209.5 L1053.0 238.7 L1053.7 263.2 L1054.4 236.3 L1055.0 220.4 L1055.8 267.3 L1056.3 289.5 L1056.5 279.4 L1057.2 249.2 L1057.6 233.5 L1057.9 232.8 L1058.6 238.1 L1058.9 242.3 L1059.3 251.1 L1060.2 262.3 L1060.7 287.5 L1061.5 324.4 L1062.1 302.0 L1062.8 274.9 L1063.5 306.9 L1064.1 341.9 L1064.9 307.9 L1065.4 287.8 L1066.3 303.2 L1066.7 308.9 L1067.0 282.8 L1067.4 257.9 L1067.7 272.8 L1068.4 308.5 L1068.7 320.3 L1069.1 306.5 L1070.0 289.8 L1070.5 299.8 L1071.3 308.2 L1071.9 318.2 L1072.6 327.3 L1073.3 337.4 L1073.9 340.7 L1074.7 336.4 L1075.2 328.4 L1076.1 316.9 L1076.5 309.3 L1076.8 301.5 L1077.5 289.1 L1077.8 288.0 L1078.2 281.9 L1079.1 274.7 L1079.6 269.2 L1080.4 269.3 L1081.0 290.2 L1081.7 308.2 L1082.4 294.9 L1083.0 276.6 L1083.8 297.4 L1084.3 318.2 L1085.2 288.5 L1085.7 274.8 L1085.9 272.8 L1086.6 249.0 L1087.0 243.2 L1087.3 235.0 L1088.0 220.5 L1088.3 210.8 L1088.7 197.7 L1089.6 177.7 L1090.1 160.4 L1090.9 146.4 L1091.5 122.2 L1092.2 89.1 L1092.2 957.2 Z" fill="#091c3a"/>
<path d="M18.5 735.3V736.2M19.5 726.8V734.5M20.5 703.8V715.9M21.5 722.7V727.8M22.5 736.7V744.5M23.5 725.0V732.2M24.5 718.8V723.9M25.5 736.9V747.3M26.5 737.9V742.1M27.5 718.5V723.4M28.5 727.0V729.1M29.5 739.8V742.4M30.5 759.6V760.7M31.5 775.4V779.4M32.5 782.7V786.7M33.5 789.7V790.3M34.5 793.1V799.6M35.5 787.3V798.7M36.5 773.2V779.2M37.5 762.0V764.1M38.5 742.7V754.6M39.5 735.0V740.5M40.5 732.6V739.3M41.5 738.1V743.8M42.5 746.3V747.3M43.5 754.1V758.3M44.5 764.3V767.3M45.5 770.1V776.5M46.5 781.0V783.0M47.5 788.2V794.2M48.5 793.9V795.5M49.5 793.0V796.2M50.5 784.4V790.4M51.5 802.9V809.4M52.5 803.4V812.4M53.5 795.8V798.4M54.5 769.7V771.5M55.5 752.3V754.2M56.5 756.0V769.9M57.5 767.7V774.0M58.5 780.0V786.7M59.5 769.0V773.3M60.5 764.2V772.0M61.5 777.3V782.2M62.5 782.1V783.6M63.5 788.4V793.4M64.5 778.2V781.1M65.5 766.8V774.7M66.5 759.9V763.4M67.5 754.2V754.9M68.5 745.3V754.2M69.5 746.5V747.2M70.5 743.9V747.3M71.5 746.1V749.4M72.5 764.0V767.7M73.5 769.6V778.5M74.5 765.6V769.1M75.5 773.8V778.1M76.5 779.7V785.5M77.5 783.3V788.3M78.5 784.2V790.6M79.5 768.0V775.7M80.5 784.0V789.9M81.5 794.0V801.4M82.5 792.4V793.7M83.5 782.3V788.7M84.5 784.0V785.8M85.5 785.2V788.2M86.5 786.6V790.9M87.5 785.6V788.2M88.5 786.1V794.9M89.5 789.7V796.1M90.5 795.8V801.1M91.5 799.4V803.7M92.5 802.3V813.8M93.5 808.2V812.6M94.5 806.7V811.5M95.5 807.7V814.0M96.5 805.8V806.9M97.5 805.6V806.5M98.5 800.3V805.1M99.5 804.3V808.2M100.5 798.6V799.1M101.5 790.2V796.0M102.5 788.2V794.5M103.5 793.2V798.7M104.5 792.1V796.1M105.5 797.7V800.1M106.5 797.2V800.3M107.5 802.1V803.9M108.5 806.0V809.2M109.5 804.7V810.2M110.5 810.2V817.0M111.5 813.5V818.7M112.5 804.6V812.0M113.5 805.5V812.2M114.5 802.9V806.8M115.5 797.7V808.2M116.5 801.2V803.0M117.5 802.9V805.8M118.5 799.2V810.4M119.5 801.6V812.1M120.5 801.0V806.1M121.5 802.1V810.6M122.5 796.7V803.4M123.5 796.9V801.8M124.5 792.3V796.1M125.5 788.2V790.1M126.5 780.5V782.8M127.5 780.0V786.9M128.5 776.1V786.9M129.5 777.8V786.0M130.5 779.4V790.6M131.5 790.0V793.4M132.5 794.0V798.4M133.5 797.9V801.3M134.5 796.9V805.9M135.5 806.1V809.1M136.5 809.1V816.9M137.5 813.9V815.8M138.5 809.0V812.5M139.5 806.8V815.8M140.5 804.7V807.8M141.5 796.0V800.5M142.5 805.8V806.4M143.5 809.3V810.4M144.5 809.3V811.7M145.5 811.5V812.3M146.5 811.6V819.0M147.5 813.4V819.0M148.5 815.4V819.2M149.5 822.3V827.8M150.5 831.6V836.9M151.5 839.2V842.0M152.5 844.8V846.0M153.5 838.3V841.8M154.5 833.0V835.7M155.5 831.8V838.0M156.5 829.7V832.9M157.5 825.6V828.6M158.5 822.5V829.7M159.5 825.8V830.4M160.5 832.1V837.3M161.5 833.5V835.3M162.5 838.0V841.1M163.5 841.6V845.5M164.5 849.9V856.3M165.5 849.6V853.7M166.5 855.3V857.5M167.5 851.1V857.2M168.5 846.1V855.4M169.5 844.0V850.0M170.5 836.9V844.8M171.5 833.5V839.7M172.5 828.5V837.6M173.5 828.8V834.2M174.5 826.8V831.0M175.5 826.1V830.9M176.5 824.3V832.9M177.5 822.3V828.3M178.5 818.1V826.1M179.5 825.4V828.5M180.5 822.0V827.7M181.5 812.9V815.3M182.5 802.5V806.5M183.5 796.1V801.8M184.5 786.0V793.4M185.5 784.1V786.4M186.5 782.4V783.7M187.5 778.9V784.6M188.5 787.0V793.1M189.5 791.6V797.8M190.5 781.7V793.2M191.5 780.3V782.6M192.5 762.5V768.5M193.5 760.8V763.7M194.5 773.6V781.9M195.5 769.0V776.2M196.5 757.6V767.1M197.5 752.5V758.9M198.5 743.4V746.4M199.5 737.9V742.4M200.5 736.4V746.9M201.5 739.5V742.3M202.5 735.2V738.4M203.5 728.4V734.3M204.5 732.1V744.9M205.5 744.4V748.6M206.5 742.6V753.2M207.5 736.4V740.3M208.5 724.4V730.1M209.5 738.5V746.7M210.5 743.8V751.6M211.5 757.3V763.4M212.5 755.3V764.4M213.5 745.4V758.3M214.5 743.4V745.5M215.5 733.7V737.2M216.5 721.8V724.8M217.5 731.3V735.3M218.5 736.1V740.7M219.5 728.8V739.6M220.5 731.6V733.4M221.5 734.7V740.7M222.5 743.7V747.6M223.5 749.6V756.2M224.5 751.5V758.3M225.5 762.7V765.6M226.5 759.5V763.1M227.5 748.7V754.8M228.5 738.2V748.3M229.5 738.6V740.6M230.5 737.4V742.4M231.5 757.9V758.3M232.5 779.1V782.0M233.5 777.5V785.7M234.5 775.3V780.3M235.5 777.9V782.4M236.5 774.3V779.5M237.5 771.6V773.3M238.5 774.0V775.0M239.5 775.2V784.0M240.5 773.3V776.5M241.5 763.8V765.4M242.5 750.1V759.0M243.5 756.9V765.4M244.5 772.5V776.4M245.5 798.2V804.2M246.5 818.1V824.1M247.5 828.3V838.3M248.5 825.2V829.1M249.5 812.6V820.8M250.5 810.7V817.4M251.5 813.7V819.0M252.5 819.5V821.1M253.5 821.4V828.6M254.5 821.4V826.5M255.5 821.4V823.0M256.5 815.6V822.3M257.5 808.1V811.6M258.5 801.0V803.6M259.5 791.0V794.0M260.5 796.9V797.2M261.5 800.1V806.2M262.5 802.2V803.4M263.5 795.4V796.9M264.5 791.2V794.7M265.5 785.4V786.9M266.5 778.1V782.2M267.5 777.2V783.2M268.5 773.8V775.9M269.5 778.1V788.0M270.5 792.8V794.5M271.5 785.0V790.4M272.5 775.6V782.6M273.5 770.7V779.3M274.5 772.1V774.8M275.5 768.3V772.6M276.5 778.1V784.7M277.5 786.5V790.7M278.5 785.5V789.3M279.5 780.7V786.8M280.5 789.8V792.3M281.5 798.6V802.0M282.5 803.8V809.6M283.5 810.1V816.1M284.5 810.4V812.9M285.5 810.3V810.8M286.5 815.2V821.3M287.5 821.1V824.6M288.5 826.0V829.8M289.5 831.3V834.3M290.5 838.7V839.7M291.5 843.5V844.4M292.5 843.0V847.4M293.5 846.7V853.5M294.5 845.6V854.8M295.5 847.3V852.4M296.5 853.9V854.7M297.5 849.8V856.3M298.5 845.9V848.6M299.5 838.9V845.6M300.5 838.1V843.6M301.5 834.2V838.4M302.5 839.1V839.7M303.5 839.5V848.7M304.5 846.3V849.9M305.5 852.2V852.6M306.5 854.1V855.5M307.5 855.6V856.9M308.5 850.9V854.8M309.5 845.9V851.0M310.5 847.0V853.2M311.5 852.9V855.2M312.5 850.9V855.4M313.5 849.9V854.5M314.5 846.8V851.8M315.5 854.3V859.1M316.5 854.5V857.3M317.5 857.6V858.4M318.5 855.0V859.7M319.5 855.0V864.1M320.5 864.1V867.6M321.5 866.9V872.0M322.5 864.2V869.4M323.5 868.5V874.1M324.5 867.1V874.0M325.5 867.3V874.3M326.5 868.9V876.1M327.5 874.3V876.0M328.5 872.4V877.2M329.5 871.4V878.7M330.5 870.9V875.0M331.5 866.1V869.5M332.5 856.3V861.3M333.5 860.5V868.6M334.5 865.3V870.5M335.5 874.0V874.7M336.5 867.5V870.1M337.5 858.9V860.3M338.5 850.3V854.2M339.5 844.5V848.4M340.5 852.9V855.6M341.5 849.4V856.6M342.5 846.9V849.0M343.5 839.1V844.5M344.5 837.7V841.3M345.5 837.8V844.8M346.5 842.8V847.2M347.5 843.8V849.8M348.5 842.8V848.7M349.5 838.3V843.1M350.5 841.2V843.3M351.5 840.8V841.3M352.5 835.5V836.8M353.5 827.7V833.1M354.5 832.4V833.6M355.5 835.2V838.3M356.5 839.3V839.8M357.5 840.7V846.9M358.5 838.2V842.2M359.5 840.4V850.2M360.5 844.4V847.0M361.5 849.2V852.8M362.5 845.3V848.1M363.5 838.8V844.3M364.5 836.1V842.2M365.5 836.6V845.4M366.5 841.2V842.5M367.5 839.3V839.6M368.5 833.1V842.0M369.5 834.2V835.6M370.5 830.0V837.9M371.5 825.2V831.2M372.5 824.0V833.1M373.5 821.5V826.6M374.5 821.5V826.7M375.5 823.6V826.0M376.5 826.8V830.5M377.5 830.9V836.3M378.5 837.1V839.7M379.5 832.6V840.2M380.5 828.7V837.7M381.5 821.5V829.4M382.5 830.6V833.0M383.5 837.9V841.5M384.5 836.7V840.3M385.5 834.7V836.7M386.5 832.0V838.1M387.5 841.0V842.7M388.5 843.1V847.3M389.5 846.1V850.8M390.5 843.1V852.1M391.5 847.1V849.5M392.5 846.4V851.7M393.5 846.4V849.0M394.5 844.3V849.2M395.5 845.7V855.5M396.5 855.8V857.0M397.5 856.5V860.6M398.5 859.0V860.6M399.5 862.0V863.1M400.5 862.4V869.9M401.5 861.0V870.9M402.5 862.4V873.8M403.5 866.8V873.9M404.5 870.9V874.2M405.5 869.6V873.2M406.5 871.8V879.7M407.5 874.7V879.5M408.5 878.0V879.9M409.5 867.0V871.9M410.5 863.1V866.8M411.5 858.4V860.2M412.5 863.2V867.6M413.5 862.5V866.5M414.5 857.7V862.3M415.5 856.5V858.1M416.5 855.5V861.0M417.5 851.9V854.4M418.5 847.7V853.3M419.5 850.8V853.1M420.5 851.8V854.5M421.5 852.1V855.1M422.5 854.0V856.7M423.5 852.1V856.9M424.5 850.3V851.9M425.5 846.5V848.2M426.5 845.1V852.3M427.5 849.9V857.4M428.5 857.3V863.6M429.5 858.1V861.9M430.5 860.2V866.0M431.5 865.0V871.0M432.5 863.6V870.0M433.5 866.3V870.6M434.5 866.9V867.6M435.5 866.1V867.4M436.5 863.7V866.8M437.5 862.5V866.8M438.5 858.9V865.5M439.5 854.6V862.4M440.5 852.0V859.8M441.5 851.4V856.7M442.5 855.5V860.4M443.5 852.7V860.0M444.5 847.2V851.9M445.5 847.2V852.3M446.5 840.8V850.2M447.5 846.6V849.4M448.5 849.0V851.5M449.5 847.3V851.8M450.5 848.5V857.3M451.5 855.6V856.7M452.5 855.6V861.9M453.5 850.8V853.6M454.5 849.6V849.8M455.5 843.8V848.6M456.5 847.0V850.3M457.5 847.3V852.0M458.5 847.6V852.9M459.5 842.6V848.3M460.5 837.4V847.6M461.5 841.8V843.0M462.5 842.3V844.7M463.5 838.0V847.4M464.5 836.8V837.2M465.5 825.9V833.9M466.5 823.8V827.2M467.5 821.1V826.4M468.5 817.9V824.6M469.5 822.4V825.4M470.5 817.8V819.4M471.5 803.4V811.7M472.5 800.9V801.4M473.5 792.2V795.5M474.5 782.4V786.7M475.5 775.1V776.5M476.5 761.4V765.5M477.5 747.5V749.6M478.5 728.5V735.7M479.5 739.0V743.2M480.5 742.2V744.0M481.5 750.4V753.6M482.5 759.6V765.0M483.5 764.7V778.1M484.5 778.7V781.5M485.5 761.2V771.5M486.5 751.3V759.4M487.5 766.6V771.4M488.5 768.5V774.2M489.5 757.5V769.5M490.5 754.7V759.6M491.5 750.9V759.9M492.5 750.1V756.0M493.5 745.2V749.3M494.5 737.6V739.4M495.5 728.7V731.2M496.5 724.4V734.0M497.5 750.2V752.4M498.5 748.1V750.1M499.5 737.1V737.4M500.5 724.0V731.9M501.5 720.3V725.4M502.5 713.3V714.9M503.5 720.6V721.8M504.5 741.8V747.3M505.5 732.6V742.0M506.5 726.6V734.4M507.5 718.2V721.4M508.5 714.4V718.0M509.5 709.9V718.7M510.5 715.8V722.7M511.5 718.1V724.2M512.5 723.2V731.8M513.5 726.1V727.9M514.5 720.4V720.8M515.5 696.5V701.8M516.5 700.8V703.3M517.5 706.6V710.6M518.5 694.9V704.8M519.5 694.1V699.4M520.5 682.1V692.9M521.5 684.3V690.0M522.5 673.1V680.9M523.5 676.1V677.0M524.5 670.5V679.9M525.5 663.2V674.1M526.5 648.4V650.5M527.5 646.0V655.2M528.5 648.1V654.4M529.5 638.1V639.6M530.5 619.5V621.6M531.5 602.2V607.7M532.5 596.6V603.2M533.5 610.5V613.9M534.5 589.7V597.4M535.5 581.1V593.3M536.5 596.4V600.4M537.5 569.1V575.9M538.5 554.6V555.3M539.5 538.2V544.7M540.5 526.4V533.4M541.5 471.7V477.9M542.5 415.7V424.3M543.5 346.3V356.9M544.5 298.2V307.3M545.5 252.5V260.9M546.5 299.5V314.7M547.5 346.8V355.8M548.5 312.5V326.7M549.5 290.9V296.5M550.5 322.2V332.8M551.5 317.6V321.1M552.5 338.5V351.6M553.5 333.8V347.1M554.5 327.3V335.7M555.5 365.6V365.8M556.5 347.9V348.4M557.5 365.2V373.1M558.5 392.7V403.1M559.5 403.4V406.0M560.5 400.8V408.0M561.5 409.5V419.3M562.5 458.5V465.3M563.5 494.7V505.1M564.5 512.5V520.3M565.5 538.7V546.8M566.5 531.1V535.3M567.5 499.0V507.4M568.5 471.2V477.3M569.5 444.7V452.1M570.5 410.4V418.7M571.5 380.8V387.7M572.5 340.9V360.8M573.5 315.2V321.7M574.5 324.1V326.7M575.5 364.1V368.0M576.5 403.6V411.3M577.5 371.4V378.3M578.5 335.2V347.3M579.5 318.6V323.8M580.5 296.6V315.0M581.5 364.3V372.6M582.5 403.3V412.4M583.5 403.6V408.7M584.5 363.6V373.2M585.5 329.8V340.8M586.5 306.4V314.4M587.5 308.3V318.6M588.5 332.3V343.7M589.5 365.0V380.9M590.5 406.6V415.7M591.5 432.2V443.8M592.5 462.8V463.1M593.5 439.0V448.7M594.5 408.8V418.3M595.5 381.2V388.1M596.5 354.8V361.4M597.5 319.4V321.7M598.5 275.8V293.0M599.5 254.2V275.6M600.5 324.9V326.1M601.5 275.1V289.7M602.5 263.2V267.3M603.5 283.4V287.6M604.5 272.3V272.6M605.5 269.8V283.3M606.5 299.2V309.0M607.5 289.9V294.1M608.5 336.6V340.3M609.5 268.0V275.0M610.5 279.1V290.2M611.5 323.8V326.3M612.5 339.7V353.1M613.5 358.8V361.8M614.5 370.6V389.8M615.5 394.4V402.2M616.5 420.2V422.1M617.5 492.6V492.8M618.5 580.2V585.3M619.5 630.0V634.9M620.5 673.1V677.5M621.5 685.8V692.7M622.5 706.4V713.5M623.5 727.4V740.4M624.5 755.2V761.0M625.5 737.2V740.2M626.5 710.6V719.5M627.5 696.1V699.7M628.5 715.4V723.2M629.5 697.2V700.6M630.5 667.5V675.4M631.5 652.5V657.9M632.5 640.2V641.7M633.5 627.9V634.6M634.5 604.4V617.5M635.5 593.6V598.5M636.5 604.3V610.0M637.5 578.3V583.1M638.5 538.0V546.8M639.5 581.3V593.6M640.5 576.9V583.7M641.5 549.2V559.1M642.5 525.4V535.6M643.5 479.6V487.4M644.5 456.9V462.8M645.5 449.6V459.6M646.5 458.7V465.1M647.5 470.6V475.3M648.5 454.3V460.1M649.5 428.7V440.6M650.5 421.3V431.1M651.5 414.3V418.4M652.5 403.6V413.4M653.5 384.2V391.9M654.5 365.7V377.5M655.5 351.2V353.0M656.5 379.5V390.4M657.5 421.2V433.9M658.5 446.4V462.9M659.5 397.3V399.6M660.5 364.2V380.2M661.5 355.9V356.8M662.5 333.8V335.3M663.5 346.0V356.0M664.5 377.6V384.5M665.5 401.2V403.8M666.5 411.1V427.2M667.5 438.6V444.6M668.5 448.0V461.5M669.5 464.5V470.4M670.5 446.8V452.4M671.5 426.0V429.2M672.5 387.7V391.9M673.5 388.1V388.9M674.5 387.2V391.7M675.5 363.4V370.6M676.5 345.9V349.1M677.5 331.1V340.7M678.5 307.9V313.7M679.5 285.6V295.7M680.5 309.4V320.2M681.5 268.2V276.1M682.5 241.6V245.0M683.5 221.2V230.9M684.5 199.6V204.4M685.5 171.0V186.6M686.5 190.6V195.7M687.5 196.6V212.9M688.5 165.9V179.2M689.5 148.4V158.7M690.5 174.3V183.2M691.5 202.7V210.9M692.5 195.0V202.2M693.5 169.5V184.6M694.5 198.3V206.3M695.5 244.7V253.4M696.5 270.7V283.1M697.5 257.2V263.8M698.5 229.4V242.8M699.5 209.5V217.8M700.5 185.5V201.5M701.5 170.2V181.1M702.5 197.1V204.0M703.5 230.5V243.4M704.5 267.5V275.7M705.5 250.1V251.4M706.5 232.6V241.8M707.5 271.2V279.0M708.5 299.3V304.1M709.5 358.0V370.3M710.5 400.6V404.0M711.5 330.6V339.6M712.5 379.1V394.4M713.5 345.7V362.6M714.5 336.9V339.3M715.5 325.4V329.4M716.5 303.3V316.0M717.5 297.1V300.3M718.5 280.5V291.1M719.5 260.5V269.3M720.5 283.2V286.2M721.5 287.5V298.6M722.5 268.0V285.5M723.5 286.7V289.0M724.5 307.0V311.3M725.5 324.7V330.4M726.5 344.9V353.2M727.5 372.3V382.1M728.5 379.5V389.7M729.5 358.7V363.1M730.5 348.8V354.6M731.5 360.7V367.7M732.5 380.9V384.1M733.5 365.1V374.2M734.5 355.0V369.1M735.5 332.5V340.6M736.5 300.6V314.1M737.5 283.6V293.2M738.5 311.3V319.9M739.5 307.2V316.4M740.5 315.1V320.3M741.5 342.5V353.1M742.5 350.8V362.9M743.5 357.6V367.0M744.5 334.3V341.9M745.5 320.8V330.3M746.5 317.2V327.7M747.5 310.7V311.9M748.5 302.3V310.5M749.5 301.2V314.6M750.5 325.0V332.1M751.5 335.3V350.9M752.5 357.6V358.3M753.5 361.6V367.8M754.5 367.9V377.6M755.5 393.3V398.8M756.5 416.6V422.4M757.5 405.5V415.2M758.5 390.0V399.9M759.5 412.9V420.7M760.5 425.1V437.4M761.5 426.0V428.3M762.5 410.9V417.0M763.5 395.0V399.3M764.5 377.5V387.2M765.5 378.8V387.4M766.5 389.6V397.9M767.5 389.9V399.7M768.5 374.6V395.0M769.5 382.0V387.3M770.5 390.5V399.2M771.5 396.3V409.2M772.5 407.8V411.4M773.5 403.2V416.1M774.5 394.2V398.4M775.5 382.8V384.6M776.5 347.6V365.2M777.5 372.8V383.4M778.5 389.4V394.2M779.5 391.4V403.4M780.5 392.8V407.8M781.5 392.3V394.3M782.5 416.0V420.1M783.5 437.4V444.4M784.5 428.4V436.9M785.5 427.9V432.1M786.5 424.5V428.7M787.5 414.3V425.9M788.5 415.0V418.1M789.5 411.1V415.0M790.5 422.6V428.1M791.5 430.5V436.7M792.5 406.6V414.3M793.5 394.7V395.9M794.5 390.6V402.1M795.5 397.3V413.8M796.5 407.0V410.8M797.5 415.8V424.6M798.5 425.7V429.4M799.5 431.7V435.8M800.5 424.4V428.1M801.5 420.9V428.2M802.5 434.7V437.5M803.5 442.1V445.3M804.5 447.4V448.8M805.5 446.4V457.8M806.5 458.7V467.0M807.5 475.3V487.4M808.5 504.6V515.0M809.5 533.9V539.8M810.5 508.0V514.4M811.5 499.8V501.0M812.5 490.7V496.3M813.5 483.6V493.1M814.5 479.4V483.6M815.5 486.6V491.8M816.5 476.3V488.6M817.5 458.8V460.0M818.5 462.7V476.8M819.5 490.5V495.1M820.5 493.6V505.9M821.5 506.0V514.5M822.5 518.3V529.3M823.5 534.3V542.8M824.5 545.5V549.8M825.5 560.8V562.0M826.5 548.6V559.0M827.5 542.8V545.0M828.5 558.5V559.6M829.5 571.8V574.1M830.5 547.9V565.6M831.5 552.3V561.3M832.5 573.6V582.5M833.5 582.2V595.3M834.5 597.2V602.0M835.5 606.7V617.3M836.5 613.0V618.9M837.5 621.8V628.3M838.5 632.6V640.9M839.5 618.6V628.3M840.5 612.7V619.4M841.5 595.3V610.4M842.5 585.8V597.7M843.5 571.6V581.7M844.5 575.1V583.9M845.5 588.2V601.1M846.5 600.3V609.7M847.5 585.1V596.3M848.5 581.4V590.1M849.5 599.7V606.5M850.5 605.4V612.6M851.5 599.9V603.0M852.5 589.4V593.1M853.5 574.1V586.5M854.5 576.9V584.0M855.5 586.1V598.0M856.5 597.3V609.8M857.5 605.7V614.0M858.5 599.2V603.7M859.5 582.5V590.6M860.5 595.3V605.6M861.5 597.5V603.4M862.5 586.6V589.4M863.5 539.2V546.1M864.5 505.0V511.7M865.5 517.8V522.1M866.5 529.4V531.9M867.5 506.2V517.9M868.5 500.8V502.4M869.5 491.4V498.1M870.5 482.5V490.2M871.5 481.3V488.6M872.5 493.7V499.0M873.5 503.6V511.2M874.5 514.0V524.0M875.5 505.0V507.7M876.5 507.0V519.2M877.5 519.3V529.3M878.5 530.1V541.8M879.5 524.4V536.8M880.5 518.6V526.2M881.5 510.1V514.1M882.5 502.1V502.7M883.5 485.0V496.6M884.5 471.3V479.4M885.5 459.2V461.3M886.5 448.8V460.7M887.5 434.1V439.8M888.5 414.3V432.2M889.5 448.3V453.7M890.5 436.2V443.8M891.5 400.3V412.2M892.5 399.5V410.1M893.5 412.0V417.9M894.5 418.6V433.1M895.5 433.8V439.2M896.5 444.1V454.0M897.5 405.1V418.6M898.5 389.3V396.4M899.5 400.1V415.6M900.5 410.9V423.8M901.5 413.4V415.2M902.5 398.0V408.3M903.5 407.6V416.8M904.5 430.5V439.1M905.5 442.8V445.2M906.5 414.7V426.4M907.5 420.9V429.0M908.5 433.5V438.8M909.5 427.3V439.9M910.5 412.6V425.2M911.5 390.7V398.7M912.5 403.2V419.2M913.5 444.7V451.6M914.5 474.4V479.0M915.5 484.5V498.3M916.5 507.2V509.4M917.5 515.4V526.3M918.5 492.1V498.6M919.5 505.1V507.2M920.5 492.0V493.5M921.5 472.7V484.2M922.5 479.0V488.9M923.5 487.0V497.4M924.5 477.8V480.1M925.5 486.5V489.3M926.5 493.4V496.7M927.5 485.7V497.0M928.5 508.6V510.6M929.5 505.1V515.9M930.5 493.8V505.7M931.5 472.4V480.6M932.5 460.8V467.7M933.5 451.8V458.8M934.5 459.6V471.2M935.5 457.1V460.4M936.5 440.9V453.4M937.5 456.7V462.9M938.5 468.0V475.7M939.5 482.4V489.7M940.5 487.2V493.0M941.5 491.9V501.8M942.5 511.6V512.8M943.5 498.0V507.8M944.5 487.4V495.0M945.5 497.5V504.6M946.5 511.2V517.4M947.5 508.7V522.2M948.5 520.4V531.8M949.5 523.4V534.0M950.5 497.6V505.2M951.5 513.1V522.0M952.5 515.2V517.6M953.5 502.6V513.7M954.5 496.9V505.4M955.5 490.3V498.9M956.5 508.5V510.3M957.5 493.8V499.4M958.5 469.0V481.8M959.5 464.2V470.7M960.5 479.3V484.6M961.5 506.3V520.0M962.5 522.5V530.0M963.5 520.9V531.8M964.5 524.3V535.3M965.5 549.9V563.2M966.5 594.6V605.2M967.5 567.0V574.6M968.5 562.5V572.7M969.5 553.9V559.2M970.5 544.6V548.8M971.5 521.7V529.8M972.5 511.5V513.2M973.5 497.1V502.5M974.5 464.9V481.4M975.5 456.7V464.3M976.5 476.5V484.1M977.5 460.9V462.6M978.5 443.7V449.0M979.5 438.9V440.3M980.5 424.3V431.2M981.5 441.4V448.7M982.5 446.3V454.1M983.5 429.2V435.0M984.5 405.7V409.4M985.5 387.7V393.0M986.5 363.2V371.6M987.5 340.6V356.9M988.5 329.8V334.1M989.5 311.4V319.1M990.5 325.3V332.0M991.5 330.4V335.9M992.5 296.3V308.1M993.5 248.7V255.7M994.5 212.6V219.1M995.5 231.4V253.3M996.5 250.2V270.0M997.5 236.6V250.6M998.5 191.8V195.8M999.5 146.6V150.8M1000.5 121.2V136.1M1001.5 163.5V169.5M1002.5 145.1V149.1M1003.5 184.2V186.8M1004.5 201.1V213.1M1005.5 153.0V157.4M1006.5 171.7V179.9M1007.5 175.2V181.8M1008.5 192.7V211.9M1009.5 236.4V255.2M1010.5 175.4V194.1M1011.5 212.9V220.4M1012.5 217.6V218.6M1013.5 159.8V177.6M1014.5 136.8V144.6M1015.5 184.9V188.0M1016.5 168.7V187.5M1017.5 180.0V182.0M1018.5 205.5V208.7M1019.5 202.3V221.7M1020.5 175.3V179.3M1021.5 196.1V197.1M1022.5 169.2V181.7M1023.5 138.0V162.1M1024.5 142.4V155.5M1025.5 116.7V126.9M1026.5 111.6V117.4M1027.5 143.0V148.5M1028.5 156.0V157.4M1029.5 104.1V123.4M1030.5 178.9V202.9M1031.5 238.7V249.4M1032.5 176.6V188.6M1033.5 198.2V208.2M1034.5 290.3V291.3M1035.5 377.2V384.1M1036.5 387.6V395.6M1037.5 350.0V360.7M1038.5 326.1V335.6M1039.5 319.2V323.5M1040.5 347.2V354.3M1041.5 370.7V383.0M1042.5 339.2V345.5M1043.5 362.0V372.5M1044.5 356.4V359.1M1045.5 321.8V327.1M1046.5 275.8V280.1M1047.5 295.2V305.8M1048.5 288.1V297.9M1049.5 287.6V294.7M1050.5 297.7V301.3M1051.5 237.3V246.6M1052.5 207.6V216.1M1053.5 248.8V261.5M1054.5 232.8V237.0M1055.5 236.1V251.9M1056.5 280.2V281.5M1057.5 225.9V239.0M1058.5 237.2V248.3M1059.5 243.0V257.7M1060.5 268.7V276.1M1061.5 323.3V334.5M1062.5 279.6V287.9M1063.5 309.3V310.6M1064.5 315.9V327.1M1065.5 283.5V300.1M1066.5 299.0V314.8M1067.5 261.6V263.7M1068.5 311.8V319.2M1069.5 300.9V312.3M1070.5 289.5V297.0M1071.5 303.0V311.8M1072.5 322.3V326.5M1073.5 329.1V346.1M1074.5 325.2V335.0M1075.5 314.8V328.0M1076.5 300.2V312.4M1077.5 288.1V298.7M1078.5 273.7V282.1M1079.5 273.7V278.3M1080.5 269.5V273.8M1081.5 301.1V308.4M1082.5 289.2V297.9M1083.5 282.1V293.9M1084.5 312.7V318.8M1085.5 279.6V283.6M1086.5 254.1V266.0M1087.5 224.7V231.7M1088.5 204.1V212.0M1089.5 169.6V189.3M1090.5 154.1V157.1" fill="none" stroke="#fff" stroke-width="1" shape-rendering="crispEdges" filter="url(#bl)" opacity="0.9"/>
<path d="M17.4 743.0 L17.7 739.1 L18.4 736.6 L19.1 728.9 L19.5 728.5 L19.8 721.7 L20.5 709.0 L21.2 719.0 L21.9 726.3 L22.2 732.6 L22.6 742.7 L23.1 757.5 L23.3 742.1 L23.9 707.8 L24.7 721.9 L25.2 732.4 L25.4 741.7 L25.8 754.3 L26.1 747.3 L26.8 731.5 L27.3 722.7 L27.5 721.1 L28.2 728.6 L29.0 730.3 L29.6 740.7 L30.0 749.1 L30.3 755.3 L31.1 773.1 L31.7 775.9 L32.4 782.5 L33.2 787.7 L33.8 792.6 L34.5 799.4 L34.9 801.8 L35.2 795.3 L35.9 785.9 L36.3 781.4 L36.6 776.7 L37.3 765.7 L38.0 756.4 L38.5 749.5 L38.7 745.7 L39.4 740.7 L40.1 731.9 L40.8 734.8 L41.6 741.2 L42.2 745.1 L42.9 751.1 L43.3 751.9 L43.6 754.8 L44.3 767.0 L44.8 770.2 L45.0 772.0 L45.7 778.4 L46.4 780.6 L46.9 785.4 L47.1 784.8 L47.8 791.8 L48.5 796.4 L49.0 798.1 L49.2 798.3 L49.9 791.9 L50.5 789.8 L51.3 806.4 L51.7 813.9 L52.0 811.8 L52.7 808.9 L53.2 804.8 L54.3 774.8 L54.8 765.6 L55.7 748.0 L56.2 758.7 L56.8 768.7 L57.6 777.0 L58.5 781.5 L59.0 773.7 L59.7 765.9 L60.2 761.3 L60.4 762.1 L61.1 772.6 L61.6 778.7 L62.5 781.8 L63.2 785.1 L63.8 789.9 L64.6 777.5 L65.3 769.6 L65.9 764.2 L66.7 760.8 L67.4 753.0 L68.0 751.6 L68.8 749.3 L69.5 748.8 L70.2 746.4 L71.1 742.6 L71.6 749.6 L72.2 760.0 L73.2 774.7 L73.7 774.1 L74.4 771.0 L74.7 767.1 L75.1 769.4 L75.8 775.3 L76.4 780.9 L77.2 782.8 L77.9 784.6 L78.5 785.1 L79.3 773.3 L79.6 772.7 L80.0 777.8 L80.7 787.0 L81.4 797.1 L81.7 798.2 L82.1 795.4 L82.8 791.8 L83.5 788.0 L84.2 782.8 L84.9 787.8 L85.6 789.9 L85.9 790.0 L86.3 790.5 L87.0 788.0 L87.7 787.3 L88.0 787.1 L88.4 790.3 L89.1 791.3 L89.8 794.8 L90.1 797.7 L90.5 798.3 L91.2 801.9 L91.9 803.5 L92.6 806.1 L93.3 810.3 L94.0 808.0 L94.7 808.2 L95.4 805.8 L96.1 808.4 L96.4 806.6 L96.8 804.7 L97.5 804.7 L98.2 804.6 L98.9 804.2 L99.6 804.0 L100.3 801.5 L101.0 798.1 L101.7 791.7 L102.1 789.6 L102.4 788.6 L103.1 790.6 L103.8 793.5 L104.5 795.1 L104.9 797.3 L105.2 796.1 L105.9 796.6 L106.6 801.6 L107.0 800.2 L107.3 800.1 L108.0 804.6 L108.7 805.2 L109.1 808.6 L109.4 811.7 L110.1 813.3 L110.8 814.7 L111.2 814.7 L111.5 813.2 L112.2 810.0 L112.9 810.2 L113.7 806.5 L114.3 806.7 L115.0 803.7 L115.7 802.2 L116.5 802.6 L117.1 805.4 L117.8 806.0 L118.5 807.0 L119.2 808.2 L119.6 807.8 L119.9 805.9 L120.6 805.9 L121.3 804.1 L122.0 801.5 L122.8 801.8 L123.4 798.0 L124.1 794.5 L124.9 791.9 L125.5 790.2 L126.2 784.1 L127.0 780.6 L127.6 782.5 L128.3 782.7 L129.0 780.3 L129.7 780.9 L130.4 783.5 L131.1 786.8 L131.8 790.4 L132.3 794.0 L132.5 796.6 L133.2 799.2 L133.9 800.4 L134.6 803.9 L135.4 806.8 L136.0 807.2 L136.7 812.4 L137.5 815.3 L138.1 814.5 L138.8 812.5 L139.5 809.5 L140.2 806.4 L140.7 806.8 L141.1 794.7 L141.6 800.4 L142.3 806.7 L142.8 808.5 L143.0 808.5 L143.7 811.7 L144.4 811.7 L145.1 810.3 L146.0 812.4 L146.5 812.7 L147.2 817.4 L147.9 818.6 L148.7 818.8 L149.3 825.8 L150.2 832.3 L150.7 836.2 L151.4 839.9 L152.3 846.6 L152.8 842.4 L153.5 838.4 L154.4 836.5 L154.9 835.2 L155.6 832.8 L156.3 832.6 L157.0 828.7 L157.6 827.9 L158.4 830.0 L159.1 828.4 L160.0 830.4 L160.5 831.4 L161.2 833.3 L162.1 837.1 L162.6 839.2 L163.3 844.0 L164.2 849.3 L164.7 852.7 L165.4 852.6 L166.1 855.1 L166.7 857.1 L167.5 855.8 L168.2 851.5 L168.9 850.1 L169.6 845.5 L170.3 841.8 L171.0 838.0 L171.6 834.4 L172.4 832.1 L173.1 828.9 L173.8 826.0 L174.3 826.8 L175.2 826.9 L175.9 829.6 L176.4 830.9 L177.3 825.2 L177.9 821.0 L178.7 824.1 L179.4 826.7 L180.0 828.9 L180.8 818.9 L181.5 813.9 L182.2 806.4 L182.9 800.4 L183.2 799.4 L183.6 796.5 L184.3 792.5 L185.0 789.2 L185.3 786.9 L185.7 785.1 L186.4 784.1 L187.1 781.9 L187.4 781.2 L187.8 784.3 L188.5 787.1 L189.2 791.3 L189.5 792.7 L189.9 792.2 L190.6 786.9 L191.3 783.5 L191.6 780.6 L192.0 773.7 L192.7 765.8 L193.3 758.5 L194.1 771.8 L194.8 779.7 L195.5 771.7 L196.2 766.8 L196.9 760.6 L197.6 752.5 L198.3 744.7 L199.0 740.3 L199.7 742.9 L200.4 744.8 L201.1 743.9 L201.8 741.4 L202.5 737.3 L203.2 731.0 L203.6 731.0 L203.9 735.4 L204.6 737.8 L205.3 747.3 L206.0 750.5 L206.7 744.1 L207.4 740.7 L208.1 734.1 L208.5 729.1 L208.8 732.6 L209.5 740.0 L210.2 746.2 L210.9 751.3 L211.6 757.7 L212.1 762.4 L212.3 758.2 L213.0 755.9 L213.7 750.6 L214.4 745.8 L215.1 737.8 L215.8 731.8 L216.5 724.3 L217.2 727.6 L217.9 737.4 L218.6 740.4 L219.3 739.1 L220.0 731.8 L220.5 731.3 L220.7 731.2 L221.4 740.4 L222.1 743.6 L222.6 748.0 L222.8 748.7 L223.5 752.7 L224.3 753.1 L224.9 757.1 L225.6 762.8 L226.0 767.9 L226.3 764.3 L227.0 757.9 L227.9 748.0 L228.4 743.6 L229.1 743.1 L229.8 738.4 L230.4 735.3 L231.2 753.2 L231.9 767.9 L232.7 784.6 L233.3 781.1 L234.0 782.9 L234.7 777.8 L235.5 778.4 L236.1 776.1 L236.8 773.9 L237.5 773.1 L238.0 772.2 L238.2 772.1 L238.9 775.9 L239.7 782.2 L240.3 775.0 L241.0 767.9 L241.7 761.6 L242.6 754.3 L243.1 758.4 L243.8 765.9 L244.3 771.4 L245.4 795.1 L245.9 808.5 L246.4 822.3 L247.5 833.5 L248.0 829.1 L248.7 822.5 L249.6 817.8 L250.1 815.2 L250.8 817.1 L251.7 814.9 L252.2 817.1 L252.9 822.8 L253.8 829.0 L254.3 824.9 L255.0 825.0 L255.9 820.1 L256.4 816.5 L257.1 813.0 L258.0 805.3 L258.5 801.0 L259.2 795.6 L259.7 791.2 L259.9 791.7 L260.6 799.4 L261.3 804.5 L261.8 807.6 L262.7 801.0 L263.4 796.1 L263.7 794.4 L264.1 791.3 L264.8 787.8 L265.5 787.5 L266.2 782.2 L266.5 781.8 L266.9 778.5 L267.6 779.0 L268.3 776.4 L268.6 774.0 L269.0 777.5 L269.7 784.3 L270.4 791.6 L270.7 794.8 L271.1 790.1 L271.8 786.5 L272.5 780.8 L272.8 780.6 L273.2 780.3 L273.9 775.4 L274.6 771.1 L275.5 769.0 L276.0 773.0 L276.7 780.6 L277.6 790.1 L278.1 787.6 L278.8 784.5 L279.7 780.1 L280.2 785.2 L280.9 795.5 L281.2 798.5 L281.6 801.0 L282.3 805.2 L283.0 811.4 L283.3 813.4 L283.7 811.0 L284.4 810.8 L285.1 809.1 L285.4 809.7 L285.8 813.8 L286.5 820.4 L287.2 823.9 L287.9 827.1 L288.6 830.6 L289.0 830.6 L289.3 831.7 L290.0 838.1 L290.7 838.6 L291.4 844.6 L291.7 845.6 L292.1 844.3 L292.8 848.4 L293.5 849.7 L294.2 849.8 L294.5 849.9 L294.9 852.0 L295.6 851.1 L296.3 854.4 L297.0 856.0 L297.7 853.0 L298.4 848.7 L299.1 843.7 L299.8 841.3 L300.5 840.2 L301.2 837.0 L301.7 835.1 L301.9 835.3 L302.6 838.3 L303.3 842.5 L304.0 847.2 L304.4 849.3 L304.7 851.7 L305.4 852.3 L306.1 854.2 L306.8 855.8 L307.6 857.2 L308.2 853.3 L308.9 847.6 L309.7 845.7 L310.0 847.8 L310.3 848.9 L311.0 851.8 L311.7 855.1 L312.1 855.6 L312.4 855.5 L313.1 850.6 L313.8 848.2 L314.5 850.2 L315.2 854.3 L315.9 854.6 L316.3 857.3 L316.6 859.1 L317.3 858.0 L318.0 858.3 L318.7 859.4 L319.5 860.4 L320.1 863.8 L320.8 866.0 L321.6 868.8 L322.2 867.1 L322.9 867.3 L323.6 867.7 L324.3 869.5 L324.8 868.5 L325.0 869.6 L325.7 869.4 L326.4 871.5 L327.1 874.1 L327.9 877.2 L328.5 876.4 L329.2 874.7 L329.9 871.7 L330.7 870.8 L331.3 866.9 L332.0 863.1 L332.8 858.8 L333.4 863.9 L334.2 866.2 L334.8 872.0 L335.7 876.4 L336.2 869.5 L336.9 864.5 L337.4 860.5 L337.6 860.0 L338.3 851.9 L339.1 845.2 L339.7 848.0 L340.6 854.3 L341.1 851.1 L341.8 850.4 L342.7 847.2 L343.2 845.4 L343.9 844.3 L344.8 838.8 L345.3 842.8 L346.0 844.8 L346.9 849.0 L347.4 848.0 L348.1 844.5 L349.0 843.7 L349.5 842.8 L350.2 840.5 L350.9 839.8 L351.5 841.2 L352.3 837.0 L353.0 832.9 L353.8 829.3 L354.4 831.6 L355.1 834.7 L356.0 839.5 L356.5 837.7 L357.2 841.4 L358.1 841.6 L358.6 840.9 L359.3 845.4 L360.2 845.7 L360.7 849.4 L361.6 851.6 L362.1 847.9 L362.8 843.1 L363.5 840.5 L363.8 837.1 L364.2 837.9 L364.9 840.3 L365.6 841.8 L365.9 842.9 L366.3 840.7 L367.0 842.0 L367.7 838.2 L368.6 837.4 L369.1 834.9 L369.8 833.5 L370.5 833.0 L371.1 831.4 L371.9 829.2 L372.6 829.8 L373.2 826.9 L374.0 824.9 L374.7 821.3 L375.4 826.0 L376.1 829.2 L376.4 828.6 L376.8 832.2 L377.5 834.1 L377.9 838.3 L378.2 837.3 L378.9 837.5 L379.6 836.0 L380.0 834.7 L380.3 831.4 L381.0 831.4 L381.7 826.1 L382.4 832.1 L383.1 836.8 L383.4 838.9 L383.8 839.1 L384.5 838.7 L385.2 834.4 L385.5 835.1 L385.9 835.5 L386.6 838.6 L387.3 840.1 L387.6 840.9 L388.0 841.1 L388.7 843.0 L389.4 847.4 L390.1 847.6 L390.8 847.1 L391.5 850.3 L392.2 851.2 L392.6 849.6 L392.9 847.7 L393.6 846.5 L394.3 844.7 L394.7 845.3 L395.0 845.7 L395.7 850.6 L396.4 855.8 L397.1 857.7 L397.8 860.2 L398.5 861.1 L399.2 861.3 L399.6 862.2 L399.9 863.1 L400.6 863.9 L401.3 865.2 L402.0 865.6 L402.7 868.4 L403.4 871.3 L404.1 869.1 L404.8 871.4 L405.5 872.8 L405.9 873.2 L406.2 872.6 L406.9 874.4 L407.6 875.9 L408.3 878.1 L408.7 879.1 L409.0 877.6 L409.7 871.2 L410.1 866.9 L410.4 862.3 L411.2 857.7 L411.8 862.9 L412.5 868.0 L412.9 868.6 L413.2 866.9 L413.9 860.7 L414.3 860.1 L414.6 861.2 L415.3 859.5 L416.0 858.2 L416.5 856.4 L416.7 854.6 L417.4 852.9 L418.1 851.9 L418.8 852.1 L419.6 850.9 L420.2 853.6 L420.9 854.2 L421.6 855.3 L422.3 857.1 L422.8 857.0 L423.0 856.3 L423.7 851.6 L424.4 851.8 L425.1 847.0 L425.5 846.9 L425.8 848.2 L426.5 849.3 L427.2 851.1 L427.6 853.6 L427.9 855.7 L428.6 858.8 L429.3 859.5 L430.2 864.0 L430.7 864.9 L431.4 865.6 L432.1 865.3 L432.8 865.2 L433.3 866.6 L434.2 865.1 L434.9 866.4 L435.6 867.3 L436.1 868.0 L436.3 867.3 L437.0 866.2 L437.7 862.6 L438.6 860.0 L439.1 857.6 L439.8 858.2 L440.7 854.1 L441.2 854.8 L441.9 855.8 L442.8 860.2 L443.3 858.2 L444.0 853.8 L444.9 849.4 L445.4 849.3 L446.1 848.9 L447.0 845.2 L447.5 844.9 L448.2 847.9 L448.9 849.9 L449.5 851.9 L450.3 852.4 L451.0 856.3 L451.7 857.7 L452.3 858.1 L453.1 853.7 L453.8 854.0 L454.5 848.7 L455.0 847.9 L455.9 847.6 L456.6 848.5 L457.3 851.4 L457.6 850.5 L458.0 851.0 L458.7 847.2 L459.4 843.9 L460.1 841.9 L460.7 841.1 L461.5 842.5 L462.2 844.1 L462.9 841.6 L463.5 843.2 L464.3 836.7 L465.0 835.4 L465.7 827.6 L466.1 826.2 L466.4 823.7 L467.1 822.4 L467.8 821.9 L468.3 818.7 L469.2 824.6 L469.7 827.2 L470.6 819.4 L471.3 809.9 L471.7 806.9 L472.0 806.4 L472.7 800.3 L473.4 792.0 L473.9 790.7 L474.1 787.9 L474.8 781.8 L475.5 775.5 L476.1 770.7 L476.9 754.5 L477.2 751.4 L477.6 744.9 L478.3 735.6 L479.0 735.8 L479.7 742.5 L480.6 743.0 L481.1 748.4 L481.8 757.6 L482.2 760.4 L482.5 762.4 L483.2 766.7 L483.9 774.8 L484.4 779.3 L485.3 770.0 L486.0 757.7 L486.4 754.3 L486.7 761.0 L487.4 766.9 L487.8 773.8 L488.1 773.1 L488.8 768.5 L489.5 760.8 L490.0 759.5 L490.2 757.3 L490.9 759.2 L491.6 754.0 L492.3 754.2 L492.8 752.1 L493.0 749.1 L493.7 743.8 L494.4 742.1 L494.7 737.9 L495.1 732.6 L495.8 727.8 L496.1 723.7 L496.5 731.1 L497.2 743.9 L497.8 757.5 L498.6 749.3 L499.4 737.9 L500.0 735.6 L500.7 725.8 L501.4 721.6 L501.7 721.1 L502.1 719.7 L502.8 714.1 L503.1 709.9 L503.5 720.1 L504.4 743.2 L504.9 739.7 L505.6 736.5 L506.3 727.7 L506.7 727.0 L507.0 725.5 L507.7 721.5 L508.6 714.5 L509.1 716.5 L509.8 717.6 L510.5 720.0 L511.4 723.7 L511.9 726.1 L512.6 723.7 L513.3 725.3 L514.2 728.4 L514.7 713.9 L515.6 695.5 L516.1 697.0 L516.8 703.6 L517.5 707.0 L518.2 705.1 L518.9 700.3 L519.7 694.0 L520.3 689.1 L521.0 684.6 L521.7 681.2 L522.5 679.4 L523.1 678.7 L523.8 675.2 L524.5 671.9 L525.3 671.0 L525.9 660.1 L526.7 646.4 L527.3 651.5 L528.1 654.9 L528.7 648.6 L529.4 640.0 L530.1 630.2 L530.8 615.3 L531.5 606.2 L532.2 595.9 L532.9 606.0 L533.6 612.3 L534.3 592.6 L535.0 576.3 L535.7 586.2 L536.4 599.5 L537.1 583.1 L537.8 568.1 L538.5 553.6 L539.1 543.8 L539.9 533.5 L540.8 523.0 L541.3 487.8 L541.7 458.5 L542.0 447.5 L542.7 405.8 L543.0 393.0 L543.4 361.0 L543.7 335.1 L544.1 319.5 L545.0 277.9 L545.7 245.8 L546.3 294.4 L546.9 330.0 L547.3 354.9 L547.6 346.0 L548.3 331.4 L548.6 321.0 L549.0 310.5 L549.6 290.2 L550.5 333.8 L551.1 326.5 L551.8 312.5 L552.5 342.3 L552.8 360.6 L553.2 346.9 L554.1 312.5 L554.6 332.6 L555.4 366.2 L556.0 354.2 L556.7 343.6 L557.4 367.3 L558.0 386.8 L558.8 396.0 L559.3 405.1 L560.2 401.2 L561.0 399.9 L561.6 421.0 L562.0 435.1 L562.3 449.0 L563.0 483.1 L563.3 491.0 L563.7 497.2 L564.6 516.3 L565.1 530.3 L565.9 549.6 L566.5 534.0 L567.2 516.3 L567.9 492.0 L568.5 478.2 L569.3 453.8 L569.8 441.6 L570.0 432.5 L570.7 414.7 L571.1 399.2 L571.4 388.1 L572.1 362.0 L572.4 353.7 L572.8 343.8 L573.5 324.0 L574.0 304.7 L574.9 341.0 L575.3 360.9 L575.6 369.4 L576.3 394.2 L576.6 410.1 L577.0 393.8 L577.9 361.1 L578.4 347.3 L579.2 328.6 L579.8 317.2 L580.5 304.3 L581.2 344.4 L581.5 367.1 L581.9 386.4 L582.8 426.4 L583.3 407.4 L584.1 386.8 L584.7 363.1 L585.4 337.6 L586.1 316.4 L586.7 302.9 L587.5 318.3 L588.0 328.7 L588.9 351.2 L589.3 366.9 L589.6 379.2 L590.3 404.9 L590.7 412.0 L591.0 423.0 L591.7 453.5 L592.0 459.1 L592.4 462.1 L592.9 465.6 L593.8 441.7 L594.2 425.4 L594.5 420.1 L595.2 396.9 L595.5 387.2 L595.9 371.3 L596.8 344.7 L597.3 323.8 L598.2 295.0 L598.7 283.1 L599.5 261.7 L600.1 304.2 L600.4 327.2 L600.8 309.9 L601.4 285.5 L602.4 260.7 L602.9 269.0 L603.7 288.1 L604.3 278.0 L605.0 263.5 L605.7 285.9 L606.3 311.7 L607.1 301.4 L607.6 290.9 L608.6 344.8 L609.2 291.9 L609.9 244.9 L610.6 295.5 L610.9 311.8 L611.3 319.1 L612.2 337.4 L612.7 348.0 L613.5 360.3 L614.1 374.7 L614.8 386.4 L615.5 401.0 L616.1 411.7 L617.1 432.4 L617.6 505.1 L617.9 553.6 L618.3 576.3 L618.9 603.3 L619.7 644.4 L620.2 667.6 L620.4 671.7 L621.1 681.5 L621.8 693.3 L622.1 700.5 L622.5 708.0 L623.2 727.2 L623.5 733.2 L623.9 744.4 L624.4 761.0 L625.3 740.0 L626.1 726.9 L626.7 714.7 L627.4 699.3 L627.7 693.5 L628.1 705.8 L628.7 720.0 L629.5 698.7 L630.0 683.8 L630.2 681.4 L630.9 669.4 L631.6 655.1 L631.9 648.9 L632.3 641.5 L633.0 637.0 L633.7 625.2 L634.2 619.8 L634.4 614.8 L635.2 589.3 L635.8 599.4 L636.5 608.6 L636.8 608.7 L637.2 591.7 L637.9 566.2 L638.4 543.7 L639.3 582.3 L639.7 596.0 L640.0 592.0 L640.7 572.7 L641.4 559.8 L641.7 554.7 L642.1 539.1 L643.0 514.5 L643.5 479.9 L643.8 462.4 L644.2 457.2 L644.9 454.7 L645.6 451.1 L645.9 452.9 L646.3 459.3 L647.0 470.6 L647.7 476.3 L648.4 462.5 L649.1 442.2 L649.5 438.0 L649.8 435.2 L650.5 426.1 L651.2 423.0 L651.9 413.3 L652.6 402.6 L653.3 393.8 L653.7 384.1 L654.0 382.6 L654.7 366.4 L655.5 351.0 L656.1 376.7 L656.8 397.0 L657.2 414.1 L657.5 428.2 L658.3 466.0 L658.9 432.2 L659.7 384.8 L660.3 372.5 L661.0 365.9 L661.5 355.6 L661.7 354.1 L662.4 334.5 L662.9 326.8 L663.1 338.7 L663.8 360.7 L664.3 378.1 L665.2 394.5 L666.1 412.2 L666.6 420.4 L667.3 435.4 L667.9 448.8 L668.7 456.8 L669.6 466.3 L670.1 459.2 L670.8 439.6 L671.4 430.4 L672.2 401.0 L672.8 376.8 L673.6 386.1 L674.2 398.7 L675.0 373.9 L675.6 359.8 L676.4 346.1 L677.1 338.6 L677.8 328.4 L678.5 304.8 L679.2 289.6 L679.9 302.1 L680.6 313.3 L681.3 285.3 L682.0 249.8 L682.7 234.3 L683.4 221.2 L683.8 218.8 L684.1 213.8 L684.8 196.2 L685.6 175.8 L686.2 185.8 L686.9 196.0 L687.3 208.2 L687.6 198.0 L688.3 171.4 L689.1 146.3 L689.7 161.1 L690.4 183.4 L690.9 190.7 L691.1 193.0 L691.9 212.4 L692.5 192.7 L693.2 180.6 L693.7 168.7 L693.9 177.1 L694.8 217.5 L695.3 245.1 L696.2 277.6 L696.7 271.4 L697.4 265.1 L697.9 253.1 L698.8 228.2 L699.7 208.1 L700.2 199.4 L700.9 189.1 L701.8 173.2 L702.3 187.6 L703.0 215.2 L703.3 225.1 L703.7 240.3 L704.4 275.9 L704.7 282.8 L705.1 267.1 L705.8 234.4 L706.1 229.9 L706.5 244.5 L707.2 263.0 L707.5 272.1 L707.9 284.9 L708.6 305.7 L708.9 316.8 L709.3 348.0 L710.0 402.6 L710.3 430.6 L710.7 368.3 L711.0 314.5 L711.4 336.1 L712.1 370.0 L712.5 384.4 L712.8 374.3 L713.5 352.3 L713.9 343.0 L714.2 339.8 L714.9 332.0 L715.6 328.5 L716.3 321.3 L717.0 303.7 L717.4 300.7 L717.7 290.5 L718.4 280.9 L719.1 269.0 L719.5 265.1 L719.8 275.0 L720.5 288.9 L721.0 296.0 L721.2 296.2 L721.9 282.2 L722.7 272.8 L723.3 288.4 L724.0 299.2 L724.5 307.4 L724.7 313.0 L725.4 329.7 L726.3 342.3 L726.8 359.8 L727.5 376.8 L728.0 389.1 L728.9 372.3 L729.5 364.1 L730.3 353.2 L730.9 345.5 L731.7 367.3 L732.3 385.1 L733.1 373.0 L733.8 372.7 L734.4 362.9 L735.2 340.0 L735.9 323.8 L736.2 322.1 L736.6 305.5 L737.2 286.7 L738.0 300.2 L738.7 316.6 L739.4 309.9 L740.0 301.5 L740.8 326.1 L741.5 346.0 L741.8 349.9 L742.2 354.3 L742.9 356.6 L743.5 362.1 L744.3 346.7 L745.0 332.0 L745.3 321.6 L745.7 323.9 L746.4 321.5 L747.1 316.3 L747.8 305.3 L748.5 299.8 L748.8 298.6 L749.2 302.7 L749.9 322.9 L750.6 333.7 L751.3 343.7 L752.0 354.5 L752.7 361.7 L753.4 365.4 L754.1 369.7 L754.9 378.3 L755.5 397.0 L756.2 409.5 L756.6 421.2 L756.9 415.8 L757.6 400.1 L758.4 389.3 L759.0 401.5 L759.7 420.0 L760.5 435.5 L761.1 428.4 L761.8 426.3 L762.7 414.5 L763.2 406.7 L763.9 392.1 L764.8 374.6 L765.3 379.5 L766.0 385.5 L766.9 393.8 L767.4 389.4 L768.1 388.8 L769.0 382.7 L769.5 383.8 L770.2 393.5 L770.9 392.1 L771.2 397.4 L771.6 398.2 L772.3 402.8 L773.0 410.2 L773.3 415.0 L773.7 412.2 L774.4 395.3 L775.1 389.7 L775.4 386.2 L775.8 376.4 L776.5 355.5 L777.2 369.1 L777.9 379.8 L778.2 386.9 L778.6 389.1 L779.3 402.8 L780.0 407.0 L780.7 397.9 L781.4 394.7 L781.8 389.7 L782.1 401.0 L782.8 433.1 L783.2 445.6 L783.5 445.7 L784.2 439.2 L784.9 434.0 L785.3 428.9 L785.6 426.5 L786.3 424.5 L787.0 422.1 L787.4 422.3 L787.7 417.5 L788.4 421.2 L789.1 412.3 L789.6 414.0 L789.8 416.5 L790.5 431.1 L791.3 439.3 L791.9 422.8 L792.6 408.5 L793.1 392.8 L793.3 394.1 L794.0 398.2 L794.7 403.4 L795.2 404.4 L796.1 409.6 L796.8 410.8 L797.3 414.2 L798.2 420.7 L798.9 432.9 L799.5 436.1 L800.3 430.7 L801.2 421.0 L801.7 427.0 L802.4 437.9 L803.0 443.0 L803.8 442.8 L804.5 447.6 L805.1 450.6 L805.9 457.9 L806.5 467.1 L807.3 479.8 L808.0 492.7 L808.7 521.4 L809.4 541.4 L810.1 521.0 L810.8 506.1 L811.5 499.5 L812.2 495.3 L812.6 491.8 L812.9 488.3 L813.6 481.7 L814.3 479.1 L815.0 485.4 L815.7 486.6 L816.1 493.2 L816.4 481.9 L817.1 467.0 L817.9 450.8 L818.5 470.0 L819.3 489.3 L819.9 493.7 L820.6 497.9 L821.4 506.8 L822.0 512.0 L822.7 522.1 L823.5 534.7 L824.1 539.7 L824.8 551.4 L825.7 563.6 L826.2 558.3 L826.9 549.5 L827.8 540.4 L828.3 554.1 L829.2 576.8 L829.7 569.6 L830.4 557.1 L831.0 549.4 L831.8 567.0 L832.7 580.8 L833.2 587.0 L833.9 596.2 L834.6 602.4 L834.9 605.3 L835.3 610.7 L836.0 617.2 L836.6 620.2 L837.4 627.3 L838.1 633.8 L838.4 634.2 L838.8 630.6 L839.5 622.5 L840.2 616.0 L840.9 609.5 L841.6 599.4 L841.9 598.5 L842.3 595.2 L843.0 585.5 L843.7 575.6 L844.1 569.9 L844.4 575.7 L845.1 587.6 L845.8 600.3 L846.2 605.5 L846.5 602.3 L847.2 594.5 L847.9 580.6 L848.3 577.6 L848.6 586.4 L849.3 600.7 L850.0 617.4 L850.7 612.1 L851.4 598.6 L852.1 593.4 L852.8 585.4 L853.5 583.2 L854.0 577.9 L854.9 586.4 L855.6 590.8 L855.9 596.1 L856.3 600.5 L857.0 608.6 L857.5 612.1 L858.4 601.1 L859.1 593.3 L859.4 588.0 L859.8 591.8 L860.5 602.1 L861.3 606.3 L861.9 598.5 L862.6 587.8 L863.4 542.8 L864.0 520.0 L864.7 500.3 L865.4 517.5 L866.1 536.3 L866.8 523.2 L867.7 510.0 L868.2 501.5 L868.9 497.3 L869.3 493.9 L869.6 493.1 L870.3 485.4 L870.9 481.6 L871.7 488.8 L872.4 499.9 L872.8 502.9 L873.1 506.3 L873.8 512.6 L874.1 518.7 L874.5 514.2 L875.2 507.1 L875.7 504.2 L876.6 518.5 L877.4 526.8 L878.0 531.2 L878.7 534.3 L879.4 528.6 L880.3 520.4 L880.8 519.5 L881.5 509.4 L882.2 505.0 L882.9 500.8 L883.8 492.0 L884.3 481.3 L885.0 467.2 L885.4 462.0 L885.7 456.4 L886.4 455.8 L887.0 448.2 L887.8 433.1 L888.3 418.6 L889.2 444.5 L889.7 458.8 L889.9 453.3 L890.8 434.5 L891.3 412.2 L891.8 399.3 L892.7 405.4 L893.4 413.1 L894.1 419.0 L894.8 427.3 L895.1 429.6 L895.5 438.7 L896.2 450.5 L896.7 456.3 L896.9 445.9 L897.6 409.0 L898.0 385.9 L898.3 393.7 L899.0 403.6 L899.6 408.8 L900.4 413.7 L901.0 422.3 L901.8 409.6 L902.6 396.6 L903.2 407.1 L903.6 419.9 L903.9 425.6 L904.6 435.4 L905.2 447.8 L906.0 428.8 L906.9 413.1 L907.4 423.4 L908.1 429.5 L908.5 434.4 L908.8 436.3 L909.5 431.9 L910.1 426.4 L910.9 411.7 L911.6 394.5 L911.9 387.4 L912.3 406.2 L913.0 438.5 L913.7 458.3 L914.4 473.2 L915.1 483.3 L916.0 499.8 L916.5 509.7 L917.3 524.0 L917.9 507.1 L918.7 489.4 L919.3 502.6 L919.7 509.8 L920.0 501.3 L920.7 484.2 L921.3 472.6 L922.1 480.1 L922.9 494.0 L923.5 485.7 L924.2 481.2 L924.6 478.0 L924.9 482.7 L925.6 493.1 L926.2 495.9 L927.0 493.4 L927.8 486.0 L928.4 507.9 L928.8 521.2 L929.1 519.9 L929.8 508.5 L930.5 502.0 L931.2 488.3 L931.8 471.9 L932.6 460.2 L933.1 451.4 L934.0 456.7 L934.7 467.5 L935.4 460.6 L936.1 454.3 L936.4 448.2 L936.8 456.0 L937.5 458.4 L938.0 461.9 L938.2 468.3 L938.9 471.5 L939.6 483.7 L940.3 490.6 L941.2 496.5 L941.7 505.9 L942.5 512.6 L943.1 505.7 L943.8 498.1 L944.4 491.9 L945.2 499.1 L946.0 510.1 L946.6 512.8 L947.3 517.2 L947.6 518.8 L948.0 520.3 L948.7 529.7 L949.2 531.5 L950.1 511.7 L950.6 501.7 L950.8 505.9 L951.5 518.8 L951.9 521.2 L952.2 520.7 L952.9 512.9 L953.5 509.9 L954.3 500.6 L955.1 494.2 L955.7 502.1 L956.4 511.3 L956.7 512.1 L957.1 505.8 L957.8 491.8 L958.3 478.1 L959.2 467.4 L959.9 464.2 L960.6 484.2 L961.3 509.6 L962.0 524.8 L962.6 531.8 L963.4 527.4 L964.2 521.4 L964.8 538.3 L965.3 547.9 L966.4 604.2 L966.9 589.9 L967.5 574.8 L968.3 569.3 L969.1 564.1 L969.7 553.1 L970.4 546.7 L970.7 542.3 L971.1 536.6 L971.8 520.5 L972.3 515.0 L972.5 508.7 L973.2 503.3 L973.9 492.1 L974.6 472.0 L975.2 453.6 L976.0 470.5 L976.6 478.5 L977.4 464.2 L978.2 450.7 L978.8 444.4 L979.5 439.4 L979.8 437.4 L980.2 430.7 L980.9 421.9 L981.6 457.2 L981.9 466.5 L982.3 458.4 L983.0 437.7 L983.3 434.4 L983.7 427.3 L984.6 406.2 L985.1 400.9 L985.9 386.4 L986.5 366.2 L987.2 353.7 L987.9 343.4 L988.5 335.3 L989.3 325.7 L989.8 314.7 L990.0 318.9 L990.7 330.4 L991.1 341.2 L991.4 329.9 L992.1 311.9 L992.4 307.2 L992.8 283.5 L993.4 263.0 L994.0 206.3 L994.9 231.9 L995.3 235.6 L995.6 247.9 L996.3 261.8 L997.0 243.7 L997.6 237.0 L998.4 193.1 L998.9 171.9 L999.8 130.4 L1000.2 116.3 L1000.5 132.3 L1001.2 158.8 L1001.5 168.9 L1001.9 161.2 L1002.8 137.6 L1003.3 175.1 L1004.1 230.5 L1004.7 195.3 L1005.4 156.1 L1006.1 168.2 L1006.7 185.5 L1007.5 178.6 L1008.0 170.1 L1008.9 222.1 L1009.3 253.2 L1009.6 239.6 L1010.3 192.4 L1010.7 177.4 L1011.0 198.8 L1011.7 228.5 L1012.0 243.9 L1012.4 221.7 L1013.3 183.3 L1013.8 149.0 L1014.2 125.8 L1014.5 144.3 L1015.2 191.3 L1015.9 178.5 L1016.5 175.3 L1017.3 179.3 L1017.8 184.7 L1018.7 214.9 L1019.1 226.5 L1019.4 214.5 L1020.1 192.1 L1020.4 178.9 L1020.8 187.5 L1021.7 200.8 L1022.2 184.0 L1023.0 160.4 L1023.6 152.6 L1024.0 139.2 L1024.3 150.1 L1025.0 164.4 L1025.7 110.0 L1026.0 91.0 L1026.4 112.3 L1027.3 145.5 L1027.8 148.8 L1028.6 158.1 L1029.2 132.3 L1029.6 112.3 L1029.9 144.7 L1030.5 194.4 L1031.5 243.9 L1032.0 213.0 L1032.8 157.7 L1033.4 197.7 L1033.8 229.4 L1034.1 257.4 L1034.8 315.0 L1035.5 386.9 L1035.8 406.8 L1036.2 390.8 L1037.1 374.1 L1037.6 355.4 L1038.0 338.4 L1038.3 331.1 L1039.0 312.7 L1039.7 331.1 L1040.3 341.5 L1041.3 386.9 L1041.8 371.5 L1042.6 340.5 L1043.2 353.0 L1043.9 373.6 L1044.6 358.0 L1045.2 340.2 L1046.0 302.5 L1046.5 276.6 L1047.4 296.0 L1047.8 308.5 L1048.1 303.7 L1048.8 287.9 L1049.1 281.5 L1049.5 286.0 L1050.4 302.3 L1050.9 274.7 L1051.4 242.9 L1052.4 209.5 L1053.0 238.7 L1053.7 263.2 L1054.4 236.3 L1055.0 220.4 L1055.8 267.3 L1056.3 289.5 L1056.5 279.4 L1057.2 249.2 L1057.6 233.5 L1057.9 232.8 L1058.6 238.1 L1058.9 242.3 L1059.3 251.1 L1060.2 262.3 L1060.7 287.5 L1061.5 324.4 L1062.1 302.0 L1062.8 274.9 L1063.5 306.9 L1064.1 341.9 L1064.9 307.9 L1065.4 287.8 L1066.3 303.2 L1066.7 308.9 L1067.0 282.8 L1067.4 257.9 L1067.7 272.8 L1068.4 308.5 L1068.7 320.3 L1069.1 306.5 L1070.0 289.8 L1070.5 299.8 L1071.3 308.2 L1071.9 318.2 L1072.6 327.3 L1073.3 337.4 L1073.9 340.7 L1074.7 336.4 L1075.2 328.4 L1076.1 316.9 L1076.5 309.3 L1076.8 301.5 L1077.5 289.1 L1077.8 288.0 L1078.2 281.9 L1079.1 274.7 L1079.6 269.2 L1080.4 269.3 L1081.0 290.2 L1081.7 308.2 L1082.4 294.9 L1083.0 276.6 L1083.8 297.4 L1084.3 318.2 L1085.2 288.5 L1085.7 274.8 L1085.9 272.8 L1086.6 249.0 L1087.0 243.2 L1087.3 235.0 L1088.0 220.5 L1088.3 210.8 L1088.7 197.7 L1089.6 177.7 L1090.1 160.4 L1090.9 146.4 L1091.5 122.2 L1092.2 89.1" fill="none" stroke="#fff" stroke-width="1.85" stroke-linejoin="bevel" shape-rendering="crispEdges" filter="url(#bl)"/>
<path d="M17 957.2 H1122.5" stroke="#e4e7ea" stroke-width="1.6" fill="none"/>
<path d="M1121.6 13 V958.0" stroke="#f2f2f2" stroke-width="1.9" fill="none"/>
<path d="M49.3 957.2 V1000 M201.5 957.2 V1000 M353.3 957.2 V1000 M503.8 957.2 V1000 M655.5 957.2 V1000 M807.5 957.2 V1000 M959.7 957.2 V1000 M1112.5 957.2 V1000" stroke="#adadad" stroke-width="1.15" fill="none"/>
<path d="M18.7 957.2 V962.2 M80.0 957.2 V962.2 M110.5 957.2 V962.2 M141.2 957.2 V962.2 M171.7 957.2 V962.2 M231.7 957.2 V962.2 M262.5 957.2 V962.2 M293.0 957.2 V962.2 M322.5 957.2 V962.2 M382.8 957.2 V962.2 M413.2 957.2 V962.2 M443.5 957.2 V962.2 M473.7 957.2 V962.2 M533.0 957.2 V962.2 M563.7 957.2 V962.2 M594.3 957.2 V962.2 M625.0 957.2 V962.2 M686.2 957.2 V962.2 M715.8 957.2 V962.2 M746.3 957.2 V962.2 M776.7 957.2 V962.2 M838.0 957.2 V962.2 M868.4 957.2 V962.2 M898.8 957.2 V962.2 M929.3 957.2 V962.2 M990.0 957.2 V962.2 M1020.8 957.2 V962.2 M1050.0 957.2 V962.2 M1080.8 957.2 V962.2" stroke="#dcdcdc" stroke-width="1.3" fill="none"/>
<path d="M1122.1999999999998 804.8 L1131.6 808.1 L1122.1999999999998 811.4 Z" fill="#fff"/>
<text x="1133.7" y="815.0" class="yl">100</text>
<path d="M1122.1999999999998 622.4 L1131.6 625.7 L1122.1999999999998 629.0 Z" fill="#fff"/>
<text x="1133.7" y="632.6" class="yl">200</text>
<path d="M1122.1999999999998 440.0 L1131.6 443.3 L1122.1999999999998 446.6 Z" fill="#fff"/>
<text x="1133.7" y="450.2" class="yl">300</text>
<path d="M1122.1999999999998 257.6 L1131.6 260.9 L1122.1999999999998 264.2 Z" fill="#fff"/>
<text x="1133.7" y="267.8" class="yl">400</text>
<path d="M1122.1999999999998 75.2 L1131.6 78.5 L1122.1999999999998 81.8 Z" fill="#fff"/>
<text x="1133.7" y="85.4" class="yl">500</text>
<path d="M1121.6 899.3 h5.5 M1121.6 716.9 h5.5 M1121.6 534.5 h5.5 M1121.6 352.1 h5.5 M1121.6 169.7 h5.5 " stroke="#e8e8e8" stroke-width="1.3" fill="none"/>
<path d="M1123.6 89.8 L1130.2 78.8 H1184.7 V100.8 H1130.2 Z" fill="#fff"/>
<text x="1132.2" y="95.8" class="vl">493.55</text>
<text x="125.2" y="996" text-anchor="middle" class="xl">1990-1994</text>
<text x="277.1" y="996" text-anchor="middle" class="xl">1995-1999</text>
<text x="427.7" y="996" text-anchor="middle" class="xl">2000-2004</text>
<text x="579.2" y="996" text-anchor="middle" class="xl">2005-2009</text>
<text x="731.5" y="996" text-anchor="middle" class="xl">2010-2014</text>
<text x="883.5" y="996" text-anchor="middle" class="xl">2015-2019</text>
<text x="1035.0" y="996" text-anchor="middle" class="xl">2020-2024</text>
<text x="20.4" y="1018" class="ft" textLength="28.0" lengthAdjust="spacingAndGlyphs">HG1</text>
<text x="55.4" y="1018" class="ft" textLength="54.2" lengthAdjust="spacingAndGlyphs">Comdty</text>
<text x="117.1" y="1018" class="ft" textLength="65.0" lengthAdjust="spacingAndGlyphs">(Generic</text>
<text x="188.8" y="1018" class="ft" textLength="20.8" lengthAdjust="spacingAndGlyphs">1st</text>
<text x="219.3" y="1018" class="ft" textLength="31.1" lengthAdjust="spacingAndGlyphs">'HG'</text>
<text x="256.3" y="1018" class="ft" textLength="50.8" lengthAdjust="spacingAndGlyphs">Future)</text>
<text x="322.1" y="1018" class="ft" textLength="37.5" lengthAdjust="spacingAndGlyphs">Daily</text>
<text x="367.9" y="1018" class="ft" textLength="172.5" lengthAdjust="spacingAndGlyphs">15MAY1970-14MAY2024</text>
<text x="622.1" y="1018" class="ft" textLength="71.6" lengthAdjust="spacingAndGlyphs">Copyright</text>
<text x="693.4" y="1018" class="ft" textLength="8.4" lengthAdjust="spacingAndGlyphs">©</text>
<text x="707.9" y="1018" class="ft" textLength="35.0" lengthAdjust="spacingAndGlyphs">2024</text>
<text x="750.4" y="1018" class="ft" textLength="78.7" lengthAdjust="spacingAndGlyphs">Bloomberg</text>
<text x="836.3" y="1018" class="ft" textLength="57.4" lengthAdjust="spacingAndGlyphs">Finance</text>
<text x="900.4" y="1018" class="ft" textLength="27.5" lengthAdjust="spacingAndGlyphs">L.P.</text>
<text x="1012.1" y="1018" class="ft" textLength="97.5" lengthAdjust="spacingAndGlyphs">14-May-2024</text>
<text x="1117.1" y="1018" class="ft" textLength="64.1" lengthAdjust="spacingAndGlyphs">15:10:05</text>
</svg>
</body></html>
